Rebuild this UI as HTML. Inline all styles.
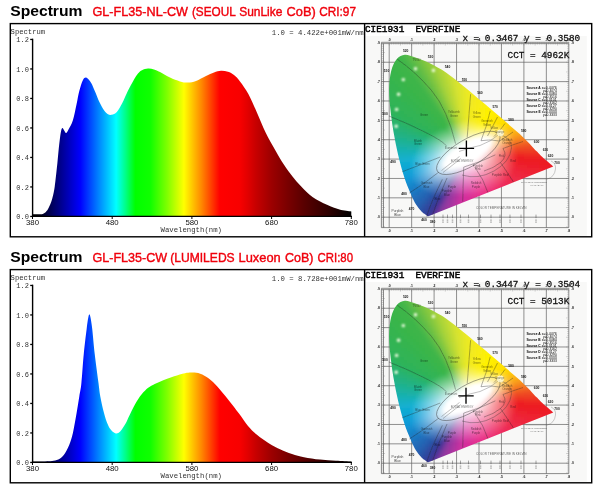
<!DOCTYPE html>
<html><head><meta charset="utf-8"><title>Spectrum</title>
<style>
html,body{margin:0;padding:0;background:#fff;}
body{width:600px;height:492px;overflow:hidden;font-family:"Liberation Sans",sans-serif;}
svg{display:block;opacity:0.999;}
text{font-family:"Liberation Sans",sans-serif;fill:#000;}
.h{font-weight:bold;font-size:15.5px;}
.r{font-size:13px;fill:#f0000c;stroke:#f0000c;stroke-width:0.4px;}
.m7{font-family:"Liberation Mono",monospace;font-size:7px;fill:#333;}
.m73{font-family:"Liberation Mono",monospace;font-size:7.3px;fill:#333;}
.s8{font-size:7.8px;fill:#111;}
.cb{font-family:"Liberation Mono",monospace;font-size:9.35px;fill:#000;stroke:#000;stroke-width:0.45px;}
.cl{stroke-width:0.28px;fill:#111;stroke:#111;}
</style></head><body>
<svg width="600" height="492" viewBox="0 0 600 492">
<defs>
<linearGradient id="spec" gradientUnits="userSpaceOnUse" x1="32.50" y1="0" x2="351.30" y2="0"><stop offset="0.0000" stop-color="#000000"/><stop offset="0.0150" stop-color="#000004"/><stop offset="0.0500" stop-color="#000048"/><stop offset="0.0875" stop-color="#00008c"/><stop offset="0.1200" stop-color="#0000c8"/><stop offset="0.1500" stop-color="#0000ff"/><stop offset="0.2075" stop-color="#0084ff"/><stop offset="0.2625" stop-color="#00ffff"/><stop offset="0.2925" stop-color="#00ff84"/><stop offset="0.3225" stop-color="#00ff00"/><stop offset="0.3700" stop-color="#10ff00"/><stop offset="0.4225" stop-color="#80ff00"/><stop offset="0.4750" stop-color="#ffff00"/><stop offset="0.5300" stop-color="#ff8800"/><stop offset="0.5875" stop-color="#ff0000"/><stop offset="0.6500" stop-color="#f80000"/><stop offset="0.6750" stop-color="#e20000"/><stop offset="0.7000" stop-color="#c80000"/><stop offset="0.7500" stop-color="#9c0000"/><stop offset="0.8000" stop-color="#7a0000"/><stop offset="0.8500" stop-color="#5a0000"/><stop offset="0.9250" stop-color="#300000"/><stop offset="0.9800" stop-color="#0c0000"/><stop offset="1.0000" stop-color="#000000"/></linearGradient>
<clipPath id="hs"><path d="M428.3 216.2C428.2 216.2 427.9 216.3 427.7 216.2C427.5 216.2 427.4 216.1 427.1 215.9C426.9 215.7 426.6 215.4 426.1 215.1C425.6 214.7 425.1 214.4 424.4 213.8C423.6 213.2 422.7 212.7 421.5 211.4C420.3 210.2 418.3 207.8 417.1 206.0C415.8 204.2 415.0 202.8 413.8 200.4C412.6 198.0 411.2 195.2 409.7 191.5C408.2 187.8 406.3 183.6 404.6 178.3C402.9 173.1 401.1 166.9 399.4 160.1C397.7 153.2 395.9 145.2 394.5 137.3C393.0 129.4 391.7 120.6 390.8 112.7C389.9 104.7 389.0 96.5 389.1 89.5C389.2 82.5 389.9 76.0 391.2 70.9C392.5 65.8 394.6 61.6 396.8 58.9C399.1 56.2 401.8 55.0 404.8 54.7C407.8 54.4 411.6 56.2 414.8 57.2C418.1 58.2 421.2 59.4 424.3 60.7C427.4 62.0 430.3 63.4 433.3 64.9C436.2 66.5 439.1 68.0 441.9 69.8C444.7 71.6 447.3 73.6 450.0 75.6C452.7 77.6 455.4 79.7 458.1 81.8C460.7 83.9 463.4 86.1 466.1 88.3C468.7 90.5 471.4 92.7 474.1 94.9C476.8 97.2 479.4 99.4 482.1 101.7C484.8 103.9 487.4 106.2 490.1 108.5C492.7 110.7 495.3 112.9 497.8 115.1C500.4 117.3 502.9 119.5 505.4 121.6C507.9 123.8 510.3 125.9 512.7 127.9C515.0 129.9 517.4 131.8 519.5 133.7C521.6 135.7 523.5 137.7 525.3 139.5C527.1 141.3 528.8 143.0 530.3 144.6C531.9 146.2 533.2 147.9 534.5 149.3C535.8 150.7 536.8 151.4 538.3 152.9C539.8 154.3 542.1 156.8 543.6 158.2C545.2 159.6 546.3 160.5 547.3 161.3C548.4 162.2 549.1 162.9 549.8 163.5C550.5 164.1 550.8 164.3 551.4 164.8C552.0 165.3 553.0 166.2 553.3 166.5Z"/></clipPath>
<filter id="bl" x="-5%" y="-5%" width="110%" height="110%"><feGaussianBlur stdDeviation="1.6"/></filter>
<filter id="b2" x="-50%" y="-50%" width="200%" height="200%"><feGaussianBlur stdDeviation="0.7"/></filter>
<filter id="b4" x="-100%" y="-100%" width="300%" height="300%"><feGaussianBlur stdDeviation="0.95"/></filter>
<filter id="b3" x="-10%" y="-10%" width="120%" height="120%"><feGaussianBlur stdDeviation="0.35"/></filter>
<g id="chart">
<rect x="365.3" y="36" width="221.5" height="200" fill="#f8f8f7"/>
<g><path d="M389.20 43.60V227.60M411.65 43.60V227.60M434.10 43.60V227.60M456.55 43.60V227.60M479.00 43.60V227.60M501.45 43.60V227.60M523.90 43.60V227.60M546.35 43.60V227.60M568.80 43.60V227.60M381.40 217.20H568.80M381.40 197.83H568.80M381.40 178.46H568.80M381.40 159.09H568.80M381.40 139.72H568.80M381.40 120.35H568.80M381.40 100.98H568.80M381.40 81.61H568.80M381.40 62.24H568.80M381.40 43.60H568.80" stroke="#626262" stroke-width="0.7" fill="none"/>
<path d="M381.40 42.40V227.60 M383.50 43.60V227.60 M381.40 227.60H568.80 M381.40 42.30H569.20" stroke="#5a5a5a" stroke-width="0.7" fill="none"/>
<path d="M389.20 42.30v3.2M391.44 42.30v2.2M393.69 42.30v2.2M395.94 42.30v2.2M398.18 42.30v2.2M400.43 42.30v3.2M402.67 42.30v2.2M404.91 42.30v2.2M407.16 42.30v2.2M409.40 42.30v2.2M411.65 42.30v3.2M413.89 42.30v2.2M416.14 42.30v2.2M418.38 42.30v2.2M420.63 42.30v2.2M422.88 42.30v3.2M425.12 42.30v2.2M427.37 42.30v2.2M429.61 42.30v2.2M431.86 42.30v2.2M434.10 42.30v3.2M436.34 42.30v2.2M438.59 42.30v2.2M440.83 42.30v2.2M443.08 42.30v2.2M445.32 42.30v3.2M447.57 42.30v2.2M449.81 42.30v2.2M452.06 42.30v2.2M454.30 42.30v2.2M456.55 42.30v3.2M458.79 42.30v2.2M461.04 42.30v2.2M463.28 42.30v2.2M465.53 42.30v2.2M467.77 42.30v3.2M470.02 42.30v2.2M472.26 42.30v2.2M474.51 42.30v2.2M476.75 42.30v2.2M479.00 42.30v3.2M481.25 42.30v2.2M483.49 42.30v2.2M485.74 42.30v2.2M487.98 42.30v2.2M490.23 42.30v3.2M492.47 42.30v2.2M494.71 42.30v2.2M496.96 42.30v2.2M499.20 42.30v2.2M501.45 42.30v3.2M503.69 42.30v2.2M505.94 42.30v2.2M508.19 42.30v2.2M510.43 42.30v2.2M512.67 42.30v3.2M514.92 42.30v2.2M517.16 42.30v2.2M519.41 42.30v2.2M521.65 42.30v2.2M523.90 42.30v3.2M526.14 42.30v2.2M528.39 42.30v2.2M530.63 42.30v2.2M532.88 42.30v2.2M535.12 42.30v3.2M537.37 42.30v2.2M539.62 42.30v2.2M541.86 42.30v2.2M544.11 42.30v2.2M546.35 42.30v3.2M548.60 42.30v2.2M550.84 42.30v2.2M553.09 42.30v2.2M555.33 42.30v2.2M557.58 42.30v3.2M559.82 42.30v2.2M562.07 42.30v2.2M564.31 42.30v2.2M566.56 42.30v2.2M568.80 42.30v3.2M381.40 226.88h3.6M568.80 226.88h-2.6M381.40 224.95h2.4M568.80 224.95h-1.6M381.40 223.01h2.4M568.80 223.01h-1.6M381.40 221.07h2.4M568.80 221.07h-1.6M381.40 219.14h2.4M568.80 219.14h-1.6M381.40 217.20h3.6M568.80 217.20h-2.6M381.40 215.26h2.4M568.80 215.26h-1.6M381.40 213.33h2.4M568.80 213.33h-1.6M381.40 211.39h2.4M568.80 211.39h-1.6M381.40 209.45h2.4M568.80 209.45h-1.6M381.40 207.51h3.6M568.80 207.51h-2.6M381.40 205.58h2.4M568.80 205.58h-1.6M381.40 203.64h2.4M568.80 203.64h-1.6M381.40 201.70h2.4M568.80 201.70h-1.6M381.40 199.77h2.4M568.80 199.77h-1.6M381.40 197.83h3.6M568.80 197.83h-2.6M381.40 195.89h2.4M568.80 195.89h-1.6M381.40 193.96h2.4M568.80 193.96h-1.6M381.40 192.02h2.4M568.80 192.02h-1.6M381.40 190.08h2.4M568.80 190.08h-1.6M381.40 188.14h3.6M568.80 188.14h-2.6M381.40 186.21h2.4M568.80 186.21h-1.6M381.40 184.27h2.4M568.80 184.27h-1.6M381.40 182.33h2.4M568.80 182.33h-1.6M381.40 180.40h2.4M568.80 180.40h-1.6M381.40 178.46h3.6M568.80 178.46h-2.6M381.40 176.52h2.4M568.80 176.52h-1.6M381.40 174.59h2.4M568.80 174.59h-1.6M381.40 172.65h2.4M568.80 172.65h-1.6M381.40 170.71h2.4M568.80 170.71h-1.6M381.40 168.77h3.6M568.80 168.77h-2.6M381.40 166.84h2.4M568.80 166.84h-1.6M381.40 164.90h2.4M568.80 164.90h-1.6M381.40 162.96h2.4M568.80 162.96h-1.6M381.40 161.03h2.4M568.80 161.03h-1.6M381.40 159.09h3.6M568.80 159.09h-2.6M381.40 157.15h2.4M568.80 157.15h-1.6M381.40 155.22h2.4M568.80 155.22h-1.6M381.40 153.28h2.4M568.80 153.28h-1.6M381.40 151.34h2.4M568.80 151.34h-1.6M381.40 149.41h3.6M568.80 149.41h-2.6M381.40 147.47h2.4M568.80 147.47h-1.6M381.40 145.53h2.4M568.80 145.53h-1.6M381.40 143.59h2.4M568.80 143.59h-1.6M381.40 141.66h2.4M568.80 141.66h-1.6M381.40 139.72h3.6M568.80 139.72h-2.6M381.40 137.78h2.4M568.80 137.78h-1.6M381.40 135.85h2.4M568.80 135.85h-1.6M381.40 133.91h2.4M568.80 133.91h-1.6M381.40 131.97h2.4M568.80 131.97h-1.6M381.40 130.03h3.6M568.80 130.03h-2.6M381.40 128.10h2.4M568.80 128.10h-1.6M381.40 126.16h2.4M568.80 126.16h-1.6M381.40 124.22h2.4M568.80 124.22h-1.6M381.40 122.29h2.4M568.80 122.29h-1.6M381.40 120.35h3.6M568.80 120.35h-2.6M381.40 118.41h2.4M568.80 118.41h-1.6M381.40 116.48h2.4M568.80 116.48h-1.6M381.40 114.54h2.4M568.80 114.54h-1.6M381.40 112.60h2.4M568.80 112.60h-1.6M381.40 110.66h3.6M568.80 110.66h-2.6M381.40 108.73h2.4M568.80 108.73h-1.6M381.40 106.79h2.4M568.80 106.79h-1.6M381.40 104.85h2.4M568.80 104.85h-1.6M381.40 102.92h2.4M568.80 102.92h-1.6M381.40 100.98h3.6M568.80 100.98h-2.6M381.40 99.04h2.4M568.80 99.04h-1.6M381.40 97.11h2.4M568.80 97.11h-1.6M381.40 95.17h2.4M568.80 95.17h-1.6M381.40 93.23h2.4M568.80 93.23h-1.6M381.40 91.29h3.6M568.80 91.29h-2.6M381.40 89.36h2.4M568.80 89.36h-1.6M381.40 87.42h2.4M568.80 87.42h-1.6M381.40 85.48h2.4M568.80 85.48h-1.6M381.40 83.55h2.4M568.80 83.55h-1.6M381.40 81.61h3.6M568.80 81.61h-2.6M381.40 79.67h2.4M568.80 79.67h-1.6M381.40 77.74h2.4M568.80 77.74h-1.6M381.40 75.80h2.4M568.80 75.80h-1.6M381.40 73.86h2.4M568.80 73.86h-1.6M381.40 71.93h3.6M568.80 71.93h-2.6M381.40 69.99h2.4M568.80 69.99h-1.6M381.40 68.05h2.4M568.80 68.05h-1.6M381.40 66.11h2.4M568.80 66.11h-1.6M381.40 64.18h2.4M568.80 64.18h-1.6M381.40 62.24h3.6M568.80 62.24h-2.6M381.40 60.30h2.4M568.80 60.30h-1.6M381.40 58.37h2.4M568.80 58.37h-1.6M381.40 56.43h2.4M568.80 56.43h-1.6M381.40 54.49h2.4M568.80 54.49h-1.6M381.40 52.56h3.6M568.80 52.56h-2.6M381.40 50.62h2.4M568.80 50.62h-1.6M381.40 48.68h2.4M568.80 48.68h-1.6M381.40 46.74h2.4M568.80 46.74h-1.6M381.40 44.81h2.4M568.80 44.81h-1.6" stroke="#777" stroke-width="0.35" fill="none"/>
</g>
<g clip-path="url(#hs)"><g filter="url(#bl)" stroke-width="3" shape-rendering="crispEdges">
<path d="M404 49.5h3" stroke="#59bb47"/><path d="M398 52.5h3" stroke="#45b649"/><path d="M401 52.5h3" stroke="#4db848"/><path d="M404 52.5h3" stroke="#54ba47"/><path d="M407 52.5h3" stroke="#5cbc46"/><path d="M410 52.5h3" stroke="#65be45"/><path d="M413 52.5h3" stroke="#6dc044"/><path d="M392 55.5h3" stroke="#3db54a"/><path d="M395 55.5h3" stroke="#3eb54a"/><path d="M398 55.5h3" stroke="#40b54a"/><path d="M401 55.5h3" stroke="#47b749"/><path d="M404 55.5h3" stroke="#4fb948"/><path d="M407 55.5h3" stroke="#58bb47"/><path d="M410 55.5h3" stroke="#60bd46"/><path d="M413 55.5h3" stroke="#69bf44"/><path d="M416 55.5h3" stroke="#72c243"/><path d="M419 55.5h3" stroke="#7cc541"/><path d="M422 55.5h3" stroke="#86c83f"/><path d="M392 58.5h3" stroke="#3cb54a"/><path d="M395 58.5h3" stroke="#3db54a"/><path d="M398 58.5h3" stroke="#3eb54a"/><path d="M401 58.5h3" stroke="#42b64a"/><path d="M404 58.5h3" stroke="#4ab849"/><path d="M407 58.5h3" stroke="#52ba47"/><path d="M410 58.5h3" stroke="#5bbc46"/><path d="M413 58.5h3" stroke="#64be45"/><path d="M416 58.5h3" stroke="#6dc044"/><path d="M419 58.5h3" stroke="#77c442"/><path d="M422 58.5h3" stroke="#81c740"/><path d="M425 58.5h3" stroke="#8cca3e"/><path d="M428 58.5h3" stroke="#97ce3c"/><path d="M389 61.5h3" stroke="#3bb54a"/><path d="M392 61.5h3" stroke="#3cb54a"/><path d="M395 61.5h3" stroke="#3db54a"/><path d="M398 61.5h3" stroke="#3eb54a"/><path d="M401 61.5h3" stroke="#3fb54a"/><path d="M404 61.5h3" stroke="#45b649"/><path d="M407 61.5h3" stroke="#4db848"/><path d="M410 61.5h3" stroke="#56bb47"/><path d="M413 61.5h3" stroke="#5fbd46"/><path d="M416 61.5h3" stroke="#68bf45"/><path d="M419 61.5h3" stroke="#72c243"/><path d="M422 61.5h3" stroke="#7cc541"/><path d="M425 61.5h3" stroke="#87c93f"/><path d="M428 61.5h3" stroke="#92cc3d"/><path d="M431 61.5h3" stroke="#9dd03b"/><path d="M434 61.5h3" stroke="#a7d339"/><path d="M389 64.5h3" stroke="#3ab54a"/><path d="M392 64.5h3" stroke="#3bb54a"/><path d="M395 64.5h3" stroke="#3cb54a"/><path d="M398 64.5h3" stroke="#3db54a"/><path d="M401 64.5h3" stroke="#3eb54a"/><path d="M404 64.5h3" stroke="#3fb54a"/><path d="M407 64.5h3" stroke="#47b749"/><path d="M410 64.5h3" stroke="#50b948"/><path d="M413 64.5h3" stroke="#59bb46"/><path d="M416 64.5h3" stroke="#63be45"/><path d="M419 64.5h3" stroke="#6cc044"/><path d="M422 64.5h3" stroke="#77c442"/><path d="M425 64.5h3" stroke="#82c740"/><path d="M428 64.5h3" stroke="#8dcb3e"/><path d="M431 64.5h3" stroke="#99ce3c"/><path d="M434 64.5h3" stroke="#a5d23a"/><path d="M437 64.5h3" stroke="#add538"/><path d="M440 64.5h3" stroke="#b5d836"/><path d="M386 67.5h3" stroke="#38b54b"/><path d="M389 67.5h3" stroke="#39b54a"/><path d="M392 67.5h3" stroke="#3ab54a"/><path d="M395 67.5h3" stroke="#3bb54a"/><path d="M398 67.5h3" stroke="#3cb54a"/><path d="M401 67.5h3" stroke="#3db54a"/><path d="M404 67.5h3" stroke="#3eb54a"/><path d="M407 67.5h3" stroke="#42b64a"/><path d="M410 67.5h3" stroke="#4ab848"/><path d="M413 67.5h3" stroke="#54ba47"/><path d="M416 67.5h3" stroke="#5dbc46"/><path d="M419 67.5h3" stroke="#67bf45"/><path d="M422 67.5h3" stroke="#71c243"/><path d="M425 67.5h3" stroke="#7dc541"/><path d="M428 67.5h3" stroke="#88c93f"/><path d="M431 67.5h3" stroke="#94cd3d"/><path d="M434 67.5h3" stroke="#a0d13b"/><path d="M437 67.5h3" stroke="#aad439"/><path d="M440 67.5h3" stroke="#b3d737"/><path d="M443 67.5h3" stroke="#bcda35"/><path d="M446 67.5h3" stroke="#c5dd33"/><path d="M386 70.5h3" stroke="#38b54c"/><path d="M389 70.5h3" stroke="#38b54b"/><path d="M392 70.5h3" stroke="#39b54a"/><path d="M395 70.5h3" stroke="#3ab54a"/><path d="M398 70.5h3" stroke="#3bb54a"/><path d="M401 70.5h3" stroke="#3cb54a"/><path d="M404 70.5h3" stroke="#3db54a"/><path d="M407 70.5h3" stroke="#3fb54a"/><path d="M410 70.5h3" stroke="#44b649"/><path d="M413 70.5h3" stroke="#4eb948"/><path d="M416 70.5h3" stroke="#57bb47"/><path d="M419 70.5h3" stroke="#61bd45"/><path d="M422 70.5h3" stroke="#6cc044"/><path d="M425 70.5h3" stroke="#77c442"/><path d="M428 70.5h3" stroke="#83c740"/><path d="M431 70.5h3" stroke="#8fcb3e"/><path d="M434 70.5h3" stroke="#9ccf3c"/><path d="M437 70.5h3" stroke="#a7d339"/><path d="M440 70.5h3" stroke="#b0d637"/><path d="M443 70.5h3" stroke="#b9d936"/><path d="M446 70.5h3" stroke="#c3dc34"/><path d="M449 70.5h3" stroke="#ccdf32"/><path d="M386 73.5h3" stroke="#37b54d"/><path d="M389 73.5h3" stroke="#38b54c"/><path d="M392 73.5h3" stroke="#38b54b"/><path d="M395 73.5h3" stroke="#39b54a"/><path d="M398 73.5h3" stroke="#3ab54a"/><path d="M401 73.5h3" stroke="#3bb54a"/><path d="M404 73.5h3" stroke="#3cb54a"/><path d="M407 73.5h3" stroke="#3eb54a"/><path d="M410 73.5h3" stroke="#3fb54a"/><path d="M413 73.5h3" stroke="#47b749"/><path d="M416 73.5h3" stroke="#51b948"/><path d="M419 73.5h3" stroke="#5bbc46"/><path d="M422 73.5h3" stroke="#66be45"/><path d="M425 73.5h3" stroke="#71c243"/><path d="M428 73.5h3" stroke="#7dc641"/><path d="M431 73.5h3" stroke="#8aca3f"/><path d="M434 73.5h3" stroke="#97ce3c"/><path d="M437 73.5h3" stroke="#a4d23a"/><path d="M440 73.5h3" stroke="#add538"/><path d="M443 73.5h3" stroke="#b7d836"/><path d="M446 73.5h3" stroke="#c0db34"/><path d="M449 73.5h3" stroke="#cadf32"/><path d="M452 73.5h3" stroke="#d4e230"/><path d="M386 76.5h3" stroke="#36b54d"/><path d="M389 76.5h3" stroke="#37b54d"/><path d="M392 76.5h3" stroke="#38b54c"/><path d="M395 76.5h3" stroke="#38b54b"/><path d="M398 76.5h3" stroke="#39b54a"/><path d="M401 76.5h3" stroke="#3ab54a"/><path d="M404 76.5h3" stroke="#3cb54a"/><path d="M407 76.5h3" stroke="#3db54a"/><path d="M410 76.5h3" stroke="#3eb54a"/><path d="M413 76.5h3" stroke="#41b54a"/><path d="M416 76.5h3" stroke="#4bb848"/><path d="M419 76.5h3" stroke="#55ba47"/><path d="M422 76.5h3" stroke="#60bd46"/><path d="M425 76.5h3" stroke="#6bc044"/><path d="M428 76.5h3" stroke="#77c442"/><path d="M431 76.5h3" stroke="#84c840"/><path d="M434 76.5h3" stroke="#91cc3d"/><path d="M437 76.5h3" stroke="#9fd03b"/><path d="M440 76.5h3" stroke="#aad439"/><path d="M443 76.5h3" stroke="#b4d737"/><path d="M446 76.5h3" stroke="#bedb35"/><path d="M449 76.5h3" stroke="#c8de33"/><path d="M452 76.5h3" stroke="#d2e130"/><path d="M455 76.5h3" stroke="#d8e32e"/><path d="M458 76.5h3" stroke="#dee52b"/><path d="M386 79.5h3" stroke="#36b44e"/><path d="M389 79.5h3" stroke="#36b54d"/><path d="M392 79.5h3" stroke="#37b54d"/><path d="M395 79.5h3" stroke="#38b54c"/><path d="M398 79.5h3" stroke="#39b54b"/><path d="M401 79.5h3" stroke="#39b54a"/><path d="M404 79.5h3" stroke="#3bb54a"/><path d="M407 79.5h3" stroke="#3cb54a"/><path d="M410 79.5h3" stroke="#3db54a"/><path d="M413 79.5h3" stroke="#3eb54a"/><path d="M416 79.5h3" stroke="#44b649"/><path d="M419 79.5h3" stroke="#4eb948"/><path d="M422 79.5h3" stroke="#59bb46"/><path d="M425 79.5h3" stroke="#65be45"/><path d="M428 79.5h3" stroke="#71c143"/><path d="M431 79.5h3" stroke="#7ec641"/><path d="M434 79.5h3" stroke="#8bca3e"/><path d="M437 79.5h3" stroke="#99cf3c"/><path d="M440 79.5h3" stroke="#a6d339"/><path d="M443 79.5h3" stroke="#b1d637"/><path d="M446 79.5h3" stroke="#bbda35"/><path d="M449 79.5h3" stroke="#c5dd33"/><path d="M452 79.5h3" stroke="#d0e131"/><path d="M455 79.5h3" stroke="#d8e32e"/><path d="M458 79.5h3" stroke="#dde52b"/><path d="M461 79.5h3" stroke="#e3e729"/><path d="M383 82.5h3" stroke="#34b450"/><path d="M386 82.5h3" stroke="#35b44f"/><path d="M389 82.5h3" stroke="#36b44e"/><path d="M392 82.5h3" stroke="#36b54e"/><path d="M395 82.5h3" stroke="#37b54d"/><path d="M398 82.5h3" stroke="#38b54c"/><path d="M401 82.5h3" stroke="#39b54b"/><path d="M404 82.5h3" stroke="#3ab54a"/><path d="M407 82.5h3" stroke="#3bb54a"/><path d="M410 82.5h3" stroke="#3cb54a"/><path d="M413 82.5h3" stroke="#3db54a"/><path d="M416 82.5h3" stroke="#3fb54a"/><path d="M419 82.5h3" stroke="#47b749"/><path d="M422 82.5h3" stroke="#52ba47"/><path d="M425 82.5h3" stroke="#5ebd46"/><path d="M428 82.5h3" stroke="#6abf44"/><path d="M431 82.5h3" stroke="#77c442"/><path d="M434 82.5h3" stroke="#85c840"/><path d="M437 82.5h3" stroke="#93cd3d"/><path d="M440 82.5h3" stroke="#a2d13a"/><path d="M443 82.5h3" stroke="#add538"/><path d="M446 82.5h3" stroke="#b8d936"/><path d="M449 82.5h3" stroke="#c3dc34"/><path d="M452 82.5h3" stroke="#cee031"/><path d="M455 82.5h3" stroke="#d7e32f"/><path d="M458 82.5h3" stroke="#dce52c"/><path d="M461 82.5h3" stroke="#e2e729"/><path d="M464 82.5h3" stroke="#e8e926"/><path d="M383 85.5h3" stroke="#34b451"/><path d="M386 85.5h3" stroke="#34b450"/><path d="M389 85.5h3" stroke="#35b44f"/><path d="M392 85.5h3" stroke="#36b44f"/><path d="M395 85.5h3" stroke="#36b54e"/><path d="M398 85.5h3" stroke="#37b54d"/><path d="M401 85.5h3" stroke="#38b54c"/><path d="M404 85.5h3" stroke="#39b54a"/><path d="M407 85.5h3" stroke="#3ab54a"/><path d="M410 85.5h3" stroke="#3bb54a"/><path d="M413 85.5h3" stroke="#3cb54a"/><path d="M416 85.5h3" stroke="#3eb54a"/><path d="M419 85.5h3" stroke="#40b54a"/><path d="M422 85.5h3" stroke="#4bb848"/><path d="M425 85.5h3" stroke="#57bb47"/><path d="M428 85.5h3" stroke="#63be45"/><path d="M431 85.5h3" stroke="#70c143"/><path d="M434 85.5h3" stroke="#7ec641"/><path d="M437 85.5h3" stroke="#8dcb3e"/><path d="M440 85.5h3" stroke="#9dd03b"/><path d="M443 85.5h3" stroke="#aad439"/><path d="M446 85.5h3" stroke="#b5d837"/><path d="M449 85.5h3" stroke="#c0db34"/><path d="M452 85.5h3" stroke="#ccdf32"/><path d="M455 85.5h3" stroke="#d6e32f"/><path d="M458 85.5h3" stroke="#dce52c"/><path d="M461 85.5h3" stroke="#e2e729"/><path d="M464 85.5h3" stroke="#e8e926"/><path d="M467 85.5h3" stroke="#edea23"/><path d="M383 88.5h3" stroke="#33b452"/><path d="M386 88.5h3" stroke="#34b451"/><path d="M389 88.5h3" stroke="#34b450"/><path d="M392 88.5h3" stroke="#35b450"/><path d="M395 88.5h3" stroke="#36b44f"/><path d="M398 88.5h3" stroke="#36b54e"/><path d="M401 88.5h3" stroke="#37b54d"/><path d="M404 88.5h3" stroke="#38b54b"/><path d="M407 88.5h3" stroke="#39b54a"/><path d="M410 88.5h3" stroke="#3ab54a"/><path d="M413 88.5h3" stroke="#3bb54a"/><path d="M416 88.5h3" stroke="#3db54a"/><path d="M419 88.5h3" stroke="#3eb54a"/><path d="M422 88.5h3" stroke="#43b649"/><path d="M425 88.5h3" stroke="#4fb948"/><path d="M428 88.5h3" stroke="#5cbc46"/><path d="M431 88.5h3" stroke="#69bf44"/><path d="M434 88.5h3" stroke="#77c442"/><path d="M437 88.5h3" stroke="#87c93f"/><path d="M440 88.5h3" stroke="#96ce3c"/><path d="M443 88.5h3" stroke="#a6d33a"/><path d="M446 88.5h3" stroke="#b1d637"/><path d="M449 88.5h3" stroke="#bdda35"/><path d="M452 88.5h3" stroke="#c9de32"/><path d="M455 88.5h3" stroke="#d5e230"/><path d="M458 88.5h3" stroke="#dbe42c"/><path d="M461 88.5h3" stroke="#e1e629"/><path d="M464 88.5h3" stroke="#e8e926"/><path d="M467 88.5h3" stroke="#edea23"/><path d="M470 88.5h3" stroke="#f0ea21"/><path d="M473 88.5h3" stroke="#f3ea1f"/><path d="M383 91.5h3" stroke="#32b453"/><path d="M386 91.5h6" stroke="#33b452"/><path d="M392 91.5h3" stroke="#34b451"/><path d="M395 91.5h3" stroke="#35b450"/><path d="M398 91.5h3" stroke="#35b44f"/><path d="M401 91.5h3" stroke="#36b54e"/><path d="M404 91.5h3" stroke="#37b54d"/><path d="M407 91.5h3" stroke="#38b54b"/><path d="M410 91.5h3" stroke="#39b54a"/><path d="M413 91.5h3" stroke="#3ab54a"/><path d="M416 91.5h3" stroke="#3bb54a"/><path d="M419 91.5h3" stroke="#3db54a"/><path d="M422 91.5h3" stroke="#3fb54a"/><path d="M425 91.5h3" stroke="#47b749"/><path d="M428 91.5h3" stroke="#54ba47"/><path d="M431 91.5h3" stroke="#61bd45"/><path d="M434 91.5h3" stroke="#70c143"/><path d="M437 91.5h3" stroke="#7fc641"/><path d="M440 91.5h3" stroke="#90cb3e"/><path d="M443 91.5h3" stroke="#a0d13b"/><path d="M446 91.5h3" stroke="#aed538"/><path d="M449 91.5h3" stroke="#bad935"/><path d="M452 91.5h3" stroke="#c6dd33"/><path d="M455 91.5h3" stroke="#d3e230"/><path d="M458 91.5h3" stroke="#dae42d"/><path d="M461 91.5h3" stroke="#e1e62a"/><path d="M464 91.5h3" stroke="#e8e926"/><path d="M467 91.5h3" stroke="#edea23"/><path d="M470 91.5h3" stroke="#f0ea21"/><path d="M473 91.5h3" stroke="#f3ea1e"/><path d="M476 91.5h3" stroke="#f5eb1b"/><path d="M383 94.5h3" stroke="#31b454"/><path d="M386 94.5h3" stroke="#32b453"/><path d="M389 94.5h3" stroke="#33b453"/><path d="M392 94.5h3" stroke="#33b452"/><path d="M395 94.5h3" stroke="#34b451"/><path d="M398 94.5h3" stroke="#35b450"/><path d="M401 94.5h3" stroke="#35b44f"/><path d="M404 94.5h3" stroke="#36b54e"/><path d="M407 94.5h3" stroke="#37b54d"/><path d="M410 94.5h3" stroke="#38b54b"/><path d="M413 94.5h3" stroke="#39b54a"/><path d="M416 94.5h3" stroke="#3ab54a"/><path d="M419 94.5h3" stroke="#3cb54a"/><path d="M422 94.5h3" stroke="#3db54a"/><path d="M425 94.5h3" stroke="#3fb54a"/><path d="M428 94.5h3" stroke="#4cb848"/><path d="M431 94.5h3" stroke="#59bb46"/><path d="M434 94.5h3" stroke="#68bf45"/><path d="M437 94.5h3" stroke="#77c442"/><path d="M440 94.5h3" stroke="#88c93f"/><path d="M443 94.5h3" stroke="#9acf3c"/><path d="M446 94.5h3" stroke="#a9d439"/><path d="M449 94.5h3" stroke="#b6d836"/><path d="M452 94.5h3" stroke="#c3dc33"/><path d="M455 94.5h3" stroke="#d1e131"/><path d="M458 94.5h3" stroke="#d9e42d"/><path d="M461 94.5h3" stroke="#e0e62a"/><path d="M464 94.5h3" stroke="#e7e826"/><path d="M467 94.5h3" stroke="#edea23"/><path d="M470 94.5h3" stroke="#f0ea21"/><path d="M473 94.5h3" stroke="#f4ea1e"/><path d="M476 94.5h3" stroke="#f5eb1a"/><path d="M479 94.5h3" stroke="#f7ec16"/><path d="M383 97.5h3" stroke="#30b455"/><path d="M386 97.5h3" stroke="#31b455"/><path d="M389 97.5h3" stroke="#32b454"/><path d="M392 97.5h3" stroke="#32b453"/><path d="M395 97.5h3" stroke="#33b452"/><path d="M398 97.5h3" stroke="#34b451"/><path d="M401 97.5h3" stroke="#34b450"/><path d="M404 97.5h3" stroke="#35b44f"/><path d="M407 97.5h3" stroke="#36b54e"/><path d="M410 97.5h3" stroke="#37b54d"/><path d="M413 97.5h3" stroke="#38b54b"/><path d="M416 97.5h3" stroke="#39b54a"/><path d="M419 97.5h3" stroke="#3ab54a"/><path d="M422 97.5h3" stroke="#3cb54a"/><path d="M425 97.5h3" stroke="#3eb54a"/><path d="M428 97.5h3" stroke="#43b649"/><path d="M431 97.5h3" stroke="#51b948"/><path d="M434 97.5h3" stroke="#5fbd46"/><path d="M437 97.5h3" stroke="#6fc143"/><path d="M440 97.5h3" stroke="#80c740"/><path d="M443 97.5h3" stroke="#92cc3d"/><path d="M446 97.5h3" stroke="#a5d23a"/><path d="M449 97.5h3" stroke="#b2d737"/><path d="M452 97.5h3" stroke="#c0db34"/><path d="M455 97.5h3" stroke="#cee031"/><path d="M458 97.5h3" stroke="#d8e32e"/><path d="M461 97.5h3" stroke="#e0e62a"/><path d="M464 97.5h3" stroke="#e7e826"/><path d="M467 97.5h3" stroke="#edea23"/><path d="M470 97.5h3" stroke="#f1ea20"/><path d="M473 97.5h3" stroke="#f4ea1e"/><path d="M476 97.5h3" stroke="#f6eb19"/><path d="M479 97.5h3" stroke="#f7ec15"/><path d="M482 97.5h3" stroke="#f9ed11"/><path d="M383 100.5h3" stroke="#30b357"/><path d="M386 100.5h3" stroke="#30b456"/><path d="M389 100.5h3" stroke="#31b455"/><path d="M392 100.5h3" stroke="#31b454"/><path d="M395 100.5h3" stroke="#32b453"/><path d="M398 100.5h3" stroke="#33b452"/><path d="M401 100.5h3" stroke="#34b451"/><path d="M404 100.5h3" stroke="#34b450"/><path d="M407 100.5h3" stroke="#35b44f"/><path d="M410 100.5h3" stroke="#36b54e"/><path d="M413 100.5h3" stroke="#37b54d"/><path d="M416 100.5h3" stroke="#38b54b"/><path d="M419 100.5h3" stroke="#39b54a"/><path d="M422 100.5h3" stroke="#3bb54a"/><path d="M425 100.5h3" stroke="#3cb54a"/><path d="M428 100.5h3" stroke="#3eb54a"/><path d="M431 100.5h3" stroke="#47b749"/><path d="M434 100.5h3" stroke="#56bb47"/><path d="M437 100.5h3" stroke="#66bf45"/><path d="M440 100.5h3" stroke="#78c442"/><path d="M443 100.5h3" stroke="#8aca3f"/><path d="M446 100.5h3" stroke="#9ed03b"/><path d="M449 100.5h3" stroke="#aed538"/><path d="M452 100.5h3" stroke="#bcda35"/><path d="M455 100.5h3" stroke="#cbdf32"/><path d="M458 100.5h3" stroke="#d7e32e"/><path d="M461 100.5h3" stroke="#dfe62b"/><path d="M464 100.5h3" stroke="#e7e827"/><path d="M467 100.5h3" stroke="#edea23"/><path d="M470 100.5h3" stroke="#f1ea20"/><path d="M473 100.5h3" stroke="#f4ea1d"/><path d="M476 100.5h3" stroke="#f6eb19"/><path d="M479 100.5h3" stroke="#f8ed14"/><path d="M482 100.5h3" stroke="#f9ee10"/><path d="M485 100.5h3" stroke="#fbef0c"/><path d="M386 103.5h3" stroke="#2fb357"/><path d="M389 103.5h3" stroke="#30b356"/><path d="M392 103.5h3" stroke="#30b455"/><path d="M395 103.5h3" stroke="#31b454"/><path d="M398 103.5h3" stroke="#32b454"/><path d="M401 103.5h3" stroke="#33b453"/><path d="M404 103.5h3" stroke="#33b452"/><path d="M407 103.5h3" stroke="#34b450"/><path d="M410 103.5h3" stroke="#35b44f"/><path d="M413 103.5h3" stroke="#36b54e"/><path d="M416 103.5h3" stroke="#37b54d"/><path d="M419 103.5h3" stroke="#38b54b"/><path d="M422 103.5h3" stroke="#39b54a"/><path d="M425 103.5h3" stroke="#3bb54a"/><path d="M428 103.5h3" stroke="#3db54a"/><path d="M431 103.5h3" stroke="#3fb54a"/><path d="M434 103.5h3" stroke="#4db848"/><path d="M437 103.5h3" stroke="#5dbc46"/><path d="M440 103.5h3" stroke="#6ec144"/><path d="M443 103.5h3" stroke="#82c740"/><path d="M446 103.5h3" stroke="#96cd3d"/><path d="M449 103.5h3" stroke="#a9d439"/><path d="M452 103.5h3" stroke="#b8d936"/><path d="M455 103.5h3" stroke="#c8de33"/><path d="M458 103.5h3" stroke="#d6e32f"/><path d="M461 103.5h3" stroke="#dee52b"/><path d="M464 103.5h3" stroke="#e6e827"/><path d="M467 103.5h3" stroke="#edea23"/><path d="M470 103.5h3" stroke="#f1ea20"/><path d="M473 103.5h3" stroke="#f5ea1d"/><path d="M476 103.5h3" stroke="#f6ec18"/><path d="M479 103.5h3" stroke="#f8ed13"/><path d="M482 103.5h3" stroke="#faee0e"/><path d="M485 103.5h3" stroke="#fbef0a"/><path d="M488 103.5h3" stroke="#fdf006"/><path d="M491 103.5h3" stroke="#fef202"/><path d="M386 106.5h3" stroke="#2eb358"/><path d="M389 106.5h6" stroke="#2fb357"/><path d="M395 106.5h3" stroke="#30b456"/><path d="M398 106.5h3" stroke="#31b455"/><path d="M401 106.5h3" stroke="#32b454"/><path d="M404 106.5h3" stroke="#32b453"/><path d="M407 106.5h3" stroke="#33b452"/><path d="M410 106.5h3" stroke="#34b451"/><path d="M413 106.5h3" stroke="#35b44f"/><path d="M416 106.5h3" stroke="#36b44e"/><path d="M419 106.5h3" stroke="#37b54d"/><path d="M422 106.5h3" stroke="#38b54b"/><path d="M425 106.5h3" stroke="#3ab54a"/><path d="M428 106.5h3" stroke="#3bb54a"/><path d="M431 106.5h3" stroke="#3db54a"/><path d="M434 106.5h3" stroke="#42b64a"/><path d="M437 106.5h3" stroke="#53ba47"/><path d="M440 106.5h3" stroke="#64be45"/><path d="M443 106.5h3" stroke="#78c442"/><path d="M446 106.5h3" stroke="#8dcb3e"/><path d="M449 106.5h3" stroke="#a3d23a"/><path d="M452 106.5h3" stroke="#b4d737"/><path d="M455 106.5h3" stroke="#c4dd33"/><path d="M458 106.5h3" stroke="#d5e230"/><path d="M461 106.5h3" stroke="#dde52b"/><path d="M464 106.5h3" stroke="#e6e827"/><path d="M467 106.5h3" stroke="#edea23"/><path d="M470 106.5h3" stroke="#f2ea20"/><path d="M473 106.5h3" stroke="#f5eb1c"/><path d="M476 106.5h3" stroke="#f7ec17"/><path d="M479 106.5h3" stroke="#f9ed12"/><path d="M482 106.5h3" stroke="#faef0d"/><path d="M485 106.5h3" stroke="#fcf008"/><path d="M488 106.5h3" stroke="#fef104"/><path d="M491 106.5h3" stroke="#fff200"/><path d="M494 106.5h3" stroke="#ffef00"/><path d="M386 109.5h3" stroke="#2db35a"/><path d="M389 109.5h3" stroke="#2eb359"/><path d="M392 109.5h3" stroke="#2eb358"/><path d="M395 109.5h3" stroke="#2fb357"/><path d="M398 109.5h3" stroke="#30b356"/><path d="M401 109.5h3" stroke="#30b455"/><path d="M404 109.5h3" stroke="#31b454"/><path d="M407 109.5h3" stroke="#32b453"/><path d="M410 109.5h3" stroke="#33b452"/><path d="M413 109.5h3" stroke="#34b451"/><path d="M416 109.5h3" stroke="#35b450"/><path d="M419 109.5h3" stroke="#36b44e"/><path d="M422 109.5h3" stroke="#37b54d"/><path d="M425 109.5h3" stroke="#38b54b"/><path d="M428 109.5h3" stroke="#3ab54a"/><path d="M431 109.5h3" stroke="#3cb54a"/><path d="M434 109.5h3" stroke="#3eb54a"/><path d="M437 109.5h3" stroke="#47b749"/><path d="M440 109.5h3" stroke="#5abb46"/><path d="M443 109.5h3" stroke="#6dc044"/><path d="M446 109.5h3" stroke="#83c740"/><path d="M449 109.5h3" stroke="#9bcf3c"/><path d="M452 109.5h3" stroke="#aed538"/><path d="M455 109.5h3" stroke="#c0db34"/><path d="M458 109.5h3" stroke="#d2e130"/><path d="M461 109.5h3" stroke="#dce52c"/><path d="M464 109.5h3" stroke="#e6e827"/><path d="M467 109.5h3" stroke="#eeea23"/><path d="M470 109.5h3" stroke="#f2ea1f"/><path d="M473 109.5h3" stroke="#f5eb1b"/><path d="M476 109.5h3" stroke="#f7ec16"/><path d="M479 109.5h3" stroke="#f9ee10"/><path d="M482 109.5h3" stroke="#fbef0b"/><path d="M485 109.5h3" stroke="#fdf006"/><path d="M488 109.5h3" stroke="#fef202"/><path d="M491 109.5h3" stroke="#fff000"/><path d="M494 109.5h3" stroke="#ffed00"/><path d="M497 109.5h3" stroke="#ffeb00"/><path d="M386 112.5h3" stroke="#2cb35e"/><path d="M389 112.5h3" stroke="#2db35b"/><path d="M392 112.5h3" stroke="#2db359"/><path d="M395 112.5h3" stroke="#2eb359"/><path d="M398 112.5h3" stroke="#2fb358"/><path d="M401 112.5h3" stroke="#2fb357"/><path d="M404 112.5h3" stroke="#30b456"/><path d="M407 112.5h3" stroke="#31b455"/><path d="M410 112.5h3" stroke="#32b454"/><path d="M413 112.5h3" stroke="#33b452"/><path d="M416 112.5h3" stroke="#34b451"/><path d="M419 112.5h3" stroke="#35b450"/><path d="M422 112.5h3" stroke="#36b44e"/><path d="M425 112.5h3" stroke="#37b54d"/><path d="M428 112.5h3" stroke="#38b54b"/><path d="M431 112.5h3" stroke="#3ab54a"/><path d="M434 112.5h3" stroke="#3cb54a"/><path d="M437 112.5h3" stroke="#3eb54a"/><path d="M440 112.5h3" stroke="#4eb948"/><path d="M443 112.5h3" stroke="#62bd45"/><path d="M446 112.5h3" stroke="#78c442"/><path d="M449 112.5h3" stroke="#91cc3d"/><path d="M452 112.5h3" stroke="#a8d339"/><path d="M455 112.5h3" stroke="#bbda35"/><path d="M458 112.5h3" stroke="#cee031"/><path d="M461 112.5h3" stroke="#dbe42c"/><path d="M464 112.5h3" stroke="#e5e827"/><path d="M467 112.5h3" stroke="#eeea23"/><path d="M470 112.5h3" stroke="#f2ea1f"/><path d="M473 112.5h3" stroke="#f5eb1a"/><path d="M476 112.5h3" stroke="#f8ed14"/><path d="M479 112.5h3" stroke="#faee0f"/><path d="M482 112.5h3" stroke="#fcf009"/><path d="M485 112.5h3" stroke="#fdf104"/><path d="M488 112.5h3" stroke="#fff100"/><path d="M491 112.5h3" stroke="#ffee00"/><path d="M494 112.5h3" stroke="#ffeb00"/><path d="M497 112.5h3" stroke="#ffe900"/><path d="M500 112.5h3" stroke="#ffe600"/><path d="M386 115.5h3" stroke="#2ab363"/><path d="M389 115.5h3" stroke="#2bb361"/><path d="M392 115.5h3" stroke="#2cb35e"/><path d="M395 115.5h3" stroke="#2db35b"/><path d="M398 115.5h3" stroke="#2eb359"/><path d="M401 115.5h3" stroke="#2eb358"/><path d="M404 115.5h3" stroke="#2fb357"/><path d="M407 115.5h3" stroke="#30b356"/><path d="M410 115.5h3" stroke="#30b455"/><path d="M413 115.5h3" stroke="#31b454"/><path d="M416 115.5h3" stroke="#32b453"/><path d="M419 115.5h3" stroke="#33b452"/><path d="M422 115.5h3" stroke="#34b450"/><path d="M425 115.5h3" stroke="#36b44e"/><path d="M428 115.5h3" stroke="#37b54d"/><path d="M431 115.5h3" stroke="#38b54b"/><path d="M434 115.5h3" stroke="#3ab54a"/><path d="M437 115.5h3" stroke="#3db54a"/><path d="M440 115.5h3" stroke="#41b54a"/><path d="M443 115.5h3" stroke="#55ba47"/><path d="M446 115.5h3" stroke="#6cc044"/><path d="M449 115.5h3" stroke="#85c83f"/><path d="M452 115.5h3" stroke="#a1d13b"/><path d="M455 115.5h3" stroke="#b6d836"/><path d="M458 115.5h3" stroke="#cadf32"/><path d="M461 115.5h3" stroke="#dae42d"/><path d="M464 115.5h3" stroke="#e5e828"/><path d="M467 115.5h3" stroke="#eeea23"/><path d="M470 115.5h3" stroke="#f3ea1f"/><path d="M473 115.5h3" stroke="#f6eb19"/><path d="M476 115.5h3" stroke="#f8ed13"/><path d="M479 115.5h3" stroke="#faef0d"/><path d="M482 115.5h3" stroke="#fcf007"/><path d="M485 115.5h3" stroke="#fef202"/><path d="M488 115.5h3" stroke="#fff000"/><path d="M491 115.5h3" stroke="#ffec00"/><path d="M494 115.5h3" stroke="#ffe900"/><path d="M497 115.5h3" stroke="#ffe600"/><path d="M500 115.5h3" stroke="#ffe400"/><path d="M503 115.5h3" stroke="#ffe200"/><path d="M386 118.5h3" stroke="#29b369"/><path d="M389 118.5h3" stroke="#2ab366"/><path d="M392 118.5h3" stroke="#2ab364"/><path d="M395 118.5h3" stroke="#2bb361"/><path d="M398 118.5h3" stroke="#2cb35e"/><path d="M401 118.5h3" stroke="#2db35a"/><path d="M404 118.5h3" stroke="#2eb359"/><path d="M407 118.5h3" stroke="#2eb358"/><path d="M410 118.5h3" stroke="#2fb357"/><path d="M413 118.5h3" stroke="#30b456"/><path d="M416 118.5h3" stroke="#31b455"/><path d="M419 118.5h3" stroke="#32b453"/><path d="M422 118.5h3" stroke="#33b452"/><path d="M425 118.5h3" stroke="#34b450"/><path d="M428 118.5h3" stroke="#36b44f"/><path d="M431 118.5h3" stroke="#37b54d"/><path d="M434 118.5h3" stroke="#38b54b"/><path d="M437 118.5h3" stroke="#3bb54a"/><path d="M440 118.5h3" stroke="#3db54a"/><path d="M443 118.5h3" stroke="#47b749"/><path d="M446 118.5h3" stroke="#5ebd46"/><path d="M449 118.5h3" stroke="#78c442"/><path d="M452 118.5h3" stroke="#95cd3d"/><path d="M455 118.5h3" stroke="#afd638"/><path d="M458 118.5h3" stroke="#c5dd33"/><path d="M461 118.5h3" stroke="#d8e32e"/><path d="M464 118.5h3" stroke="#e4e728"/><path d="M467 118.5h3" stroke="#eeea23"/><path d="M470 118.5h3" stroke="#f4ea1e"/><path d="M473 118.5h3" stroke="#f6ec18"/><path d="M476 118.5h3" stroke="#f9ed11"/><path d="M479 118.5h3" stroke="#fbef0b"/><path d="M482 118.5h3" stroke="#fdf104"/><path d="M485 118.5h3" stroke="#fff100"/><path d="M488 118.5h3" stroke="#ffed00"/><path d="M491 118.5h3" stroke="#ffea00"/><path d="M494 118.5h3" stroke="#ffe700"/><path d="M497 118.5h3" stroke="#ffe400"/><path d="M500 118.5h3" stroke="#ffe200"/><path d="M503 118.5h3" stroke="#ffe000"/><path d="M506 118.5h3" stroke="#ffde00"/><path d="M386 121.5h3" stroke="#27b36f"/><path d="M389 121.5h3" stroke="#28b36c"/><path d="M392 121.5h3" stroke="#29b36a"/><path d="M395 121.5h3" stroke="#29b367"/><path d="M398 121.5h3" stroke="#2ab364"/><path d="M401 121.5h3" stroke="#2bb361"/><path d="M404 121.5h3" stroke="#2cb35d"/><path d="M407 121.5h3" stroke="#2db35a"/><path d="M410 121.5h3" stroke="#2eb359"/><path d="M413 121.5h3" stroke="#2fb358"/><path d="M416 121.5h3" stroke="#30b357"/><path d="M419 121.5h3" stroke="#30b455"/><path d="M422 121.5h3" stroke="#32b454"/><path d="M425 121.5h3" stroke="#33b452"/><path d="M428 121.5h3" stroke="#34b451"/><path d="M431 121.5h3" stroke="#35b44f"/><path d="M434 121.5h3" stroke="#37b54d"/><path d="M437 121.5h3" stroke="#39b54b"/><path d="M440 121.5h3" stroke="#3bb54a"/><path d="M443 121.5h3" stroke="#3eb54a"/><path d="M446 121.5h3" stroke="#50b948"/><path d="M449 121.5h3" stroke="#6abf44"/><path d="M452 121.5h3" stroke="#88c93f"/><path d="M455 121.5h3" stroke="#a8d43b"/><path d="M458 121.5h3" stroke="#c2dc3b"/><path d="M461 121.5h3" stroke="#d8e439"/><path d="M464 121.5h3" stroke="#e5e936"/><path d="M467 121.5h3" stroke="#efeb32"/><path d="M470 121.5h3" stroke="#f5eb2c"/><path d="M473 121.5h3" stroke="#f7ed21"/><path d="M476 121.5h3" stroke="#faee15"/><path d="M479 121.5h3" stroke="#fcf008"/><path d="M482 121.5h3" stroke="#fef202"/><path d="M485 121.5h3" stroke="#ffef00"/><path d="M488 121.5h3" stroke="#ffeb00"/><path d="M491 121.5h3" stroke="#ffe800"/><path d="M494 121.5h3" stroke="#ffe500"/><path d="M497 121.5h3" stroke="#ffe200"/><path d="M500 121.5h3" stroke="#ffe000"/><path d="M503 121.5h3" stroke="#ffde00"/><path d="M506 121.5h3" stroke="#ffdc00"/><path d="M509 121.5h3" stroke="#ffd703"/><path d="M512 121.5h3" stroke="#fed206"/><path d="M386 124.5h3" stroke="#26b275"/><path d="M389 124.5h3" stroke="#26b273"/><path d="M392 124.5h3" stroke="#27b370"/><path d="M395 124.5h3" stroke="#28b36e"/><path d="M398 124.5h3" stroke="#28b36b"/><path d="M401 124.5h3" stroke="#29b368"/><path d="M404 124.5h3" stroke="#2ab365"/><path d="M407 124.5h3" stroke="#2bb361"/><path d="M410 124.5h3" stroke="#2cb35d"/><path d="M413 124.5h3" stroke="#2db35a"/><path d="M416 124.5h3" stroke="#2eb359"/><path d="M419 124.5h3" stroke="#2fb357"/><path d="M422 124.5h3" stroke="#30b356"/><path d="M425 124.5h3" stroke="#31b455"/><path d="M428 124.5h3" stroke="#32b453"/><path d="M431 124.5h3" stroke="#34b451"/><path d="M434 124.5h3" stroke="#35b44f"/><path d="M437 124.5h3" stroke="#37b54d"/><path d="M440 124.5h3" stroke="#39b54a"/><path d="M443 124.5h3" stroke="#3cb54a"/><path d="M446 124.5h3" stroke="#43b74e"/><path d="M449 124.5h3" stroke="#64c051"/><path d="M452 124.5h3" stroke="#85c953"/><path d="M455 124.5h3" stroke="#a8d552"/><path d="M458 124.5h3" stroke="#c3de52"/><path d="M461 124.5h3" stroke="#dbe752"/><path d="M464 124.5h3" stroke="#e7eb4f"/><path d="M467 124.5h3" stroke="#f1ee4c"/><path d="M470 124.5h3" stroke="#f6ee46"/><path d="M473 124.5h3" stroke="#f9f03c"/><path d="M476 124.5h3" stroke="#fbf132"/><path d="M479 124.5h3" stroke="#fdf327"/><path d="M482 124.5h3" stroke="#fff21f"/><path d="M485 124.5h3" stroke="#ffee1b"/><path d="M488 124.5h3" stroke="#ffea16"/><path d="M491 124.5h3" stroke="#ffe711"/><path d="M494 124.5h3" stroke="#ffe40b"/><path d="M497 124.5h3" stroke="#ffe003"/><path d="M500 124.5h3" stroke="#ffde00"/><path d="M503 124.5h3" stroke="#ffdb01"/><path d="M506 124.5h3" stroke="#fed504"/><path d="M509 124.5h3" stroke="#fed007"/><path d="M512 124.5h3" stroke="#fecb0a"/><path d="M515 124.5h3" stroke="#fdc60d"/><path d="M389 127.5h3" stroke="#25b279"/><path d="M392 127.5h3" stroke="#25b277"/><path d="M395 127.5h3" stroke="#26b274"/><path d="M398 127.5h3" stroke="#27b372"/><path d="M401 127.5h3" stroke="#27b36f"/><path d="M404 127.5h3" stroke="#28b36c"/><path d="M407 127.5h3" stroke="#29b369"/><path d="M410 127.5h3" stroke="#2ab365"/><path d="M413 127.5h3" stroke="#2bb361"/><path d="M416 127.5h3" stroke="#2cb35d"/><path d="M419 127.5h3" stroke="#2db35a"/><path d="M422 127.5h3" stroke="#2eb358"/><path d="M425 127.5h3" stroke="#2fb357"/><path d="M428 127.5h3" stroke="#31b455"/><path d="M431 127.5h3" stroke="#32b454"/><path d="M434 127.5h3" stroke="#33b452"/><path d="M437 127.5h3" stroke="#35b44f"/><path d="M440 127.5h3" stroke="#37b54d"/><path d="M443 127.5h3" stroke="#39b54a"/><path d="M446 127.5h3" stroke="#4cbb58"/><path d="M449 127.5h3" stroke="#64c266"/><path d="M452 127.5h3" stroke="#84cb68"/><path d="M455 127.5h3" stroke="#a6d669"/><path d="M458 127.5h3" stroke="#c4e06a"/><path d="M461 127.5h3" stroke="#dce96a"/><path d="M464 127.5h3" stroke="#eaee69"/><path d="M467 127.5h3" stroke="#f4f066"/><path d="M470 127.5h3" stroke="#f8f162"/><path d="M473 127.5h3" stroke="#faf359"/><path d="M476 127.5h3" stroke="#fdf451"/><path d="M479 127.5h3" stroke="#fff549"/><path d="M482 127.5h3" stroke="#fff346"/><path d="M485 127.5h3" stroke="#ffef44"/><path d="M488 127.5h3" stroke="#ffec40"/><path d="M491 127.5h3" stroke="#ffe93c"/><path d="M494 127.5h3" stroke="#ffe635"/><path d="M497 127.5h3" stroke="#ffe328"/><path d="M500 127.5h3" stroke="#ffdd1c"/><path d="M503 127.5h3" stroke="#fed512"/><path d="M506 127.5h3" stroke="#fecd09"/><path d="M509 127.5h3" stroke="#fec70c"/><path d="M512 127.5h3" stroke="#fdc30e"/><path d="M515 127.5h3" stroke="#fdbe11"/><path d="M518 127.5h3" stroke="#fcb813"/><path d="M389 130.5h3" stroke="#23b27f"/><path d="M392 130.5h3" stroke="#23b27d"/><path d="M395 130.5h3" stroke="#24b27b"/><path d="M398 130.5h3" stroke="#25b279"/><path d="M401 130.5h3" stroke="#25b277"/><path d="M404 130.5h3" stroke="#26b274"/><path d="M407 130.5h3" stroke="#27b371"/><path d="M410 130.5h3" stroke="#28b36e"/><path d="M413 130.5h3" stroke="#29b36a"/><path d="M416 130.5h3" stroke="#2ab366"/><path d="M419 130.5h3" stroke="#2bb362"/><path d="M422 130.5h3" stroke="#2cb35d"/><path d="M425 130.5h3" stroke="#2db359"/><path d="M428 130.5h3" stroke="#2fb358"/><path d="M431 130.5h3" stroke="#30b356"/><path d="M434 130.5h3" stroke="#31b454"/><path d="M437 130.5h3" stroke="#38b656"/><path d="M440 130.5h3" stroke="#41b95b"/><path d="M443 130.5h3" stroke="#4abc5e"/><path d="M446 130.5h3" stroke="#54bf62"/><path d="M449 130.5h3" stroke="#6bc674"/><path d="M452 130.5h3" stroke="#86ce7e"/><path d="M455 130.5h3" stroke="#a6d880"/><path d="M458 130.5h3" stroke="#c6e381"/><path d="M461 130.5h3" stroke="#deeb83"/><path d="M464 130.5h3" stroke="#edf083"/><path d="M467 130.5h3" stroke="#f6f382"/><path d="M470 130.5h3" stroke="#faf47f"/><path d="M473 130.5h3" stroke="#fcf579"/><path d="M476 130.5h3" stroke="#fef774"/><path d="M479 130.5h3" stroke="#fff772"/><path d="M482 130.5h3" stroke="#fff472"/><path d="M485 130.5h3" stroke="#fff172"/><path d="M488 130.5h3" stroke="#ffef70"/><path d="M491 130.5h3" stroke="#ffec69"/><path d="M494 130.5h3" stroke="#ffe95d"/><path d="M497 130.5h3" stroke="#ffe351"/><path d="M500 130.5h3" stroke="#fedb43"/><path d="M503 130.5h3" stroke="#fed232"/><path d="M506 130.5h3" stroke="#fdc81f"/><path d="M509 130.5h3" stroke="#fdbe11"/><path d="M512 130.5h3" stroke="#fcb813"/><path d="M515 130.5h3" stroke="#fbb315"/><path d="M518 130.5h3" stroke="#fbae17"/><path d="M521 130.5h3" stroke="#faa919"/><path d="M389 133.5h3" stroke="#21b286"/><path d="M392 133.5h3" stroke="#22b284"/><path d="M395 133.5h3" stroke="#22b282"/><path d="M398 133.5h3" stroke="#23b280"/><path d="M401 133.5h3" stroke="#23b27e"/><path d="M404 133.5h3" stroke="#24b27c"/><path d="M407 133.5h3" stroke="#25b279"/><path d="M410 133.5h3" stroke="#25b276"/><path d="M413 133.5h3" stroke="#26b273"/><path d="M416 133.5h3" stroke="#27b36f"/><path d="M419 133.5h3" stroke="#28b36b"/><path d="M422 133.5h3" stroke="#29b367"/><path d="M425 133.5h3" stroke="#2bb362"/><path d="M428 133.5h3" stroke="#2cb35d"/><path d="M431 133.5h3" stroke="#33b55d"/><path d="M434 133.5h3" stroke="#3eb964"/><path d="M437 133.5h3" stroke="#4abd6a"/><path d="M440 133.5h3" stroke="#54c070"/><path d="M443 133.5h3" stroke="#5fc475"/><path d="M446 133.5h3" stroke="#68c779"/><path d="M449 133.5h3" stroke="#74cb7f"/><path d="M452 133.5h3" stroke="#8ad291"/><path d="M455 133.5h3" stroke="#a7da97"/><path d="M458 133.5h3" stroke="#c7e599"/><path d="M461 133.5h3" stroke="#e0ed9c"/><path d="M464 133.5h3" stroke="#f0f39e"/><path d="M467 133.5h3" stroke="#f8f69f"/><path d="M470 133.5h3" stroke="#fbf79e"/><path d="M473 133.5h3" stroke="#fdf89d"/><path d="M476 133.5h3" stroke="#fffa9d"/><path d="M479 133.5h3" stroke="#fff8a2"/><path d="M482 133.5h3" stroke="#fff6a5"/><path d="M485 133.5h3" stroke="#fff5a7"/><path d="M488 133.5h3" stroke="#fff3a1"/><path d="M491 133.5h3" stroke="#fff094"/><path d="M494 133.5h3" stroke="#ffea87"/><path d="M497 133.5h3" stroke="#fee275"/><path d="M500 133.5h3" stroke="#fed960"/><path d="M503 133.5h3" stroke="#fdce49"/><path d="M506 133.5h3" stroke="#fcc235"/><path d="M509 133.5h3" stroke="#fbb621"/><path d="M512 133.5h3" stroke="#faac18"/><path d="M515 133.5h3" stroke="#faa719"/><path d="M518 133.5h3" stroke="#f9a21b"/><path d="M521 133.5h3" stroke="#f99d1c"/><path d="M524 133.5h3" stroke="#f8981d"/><path d="M389 136.5h3" stroke="#1fb28d"/><path d="M392 136.5h3" stroke="#20b28c"/><path d="M395 136.5h3" stroke="#20b28a"/><path d="M398 136.5h3" stroke="#21b288"/><path d="M401 136.5h3" stroke="#21b286"/><path d="M404 136.5h3" stroke="#22b284"/><path d="M407 136.5h3" stroke="#22b282"/><path d="M410 136.5h3" stroke="#23b27f"/><path d="M413 136.5h3" stroke="#24b27c"/><path d="M416 136.5h3" stroke="#25b279"/><path d="M419 136.5h3" stroke="#25b276"/><path d="M422 136.5h3" stroke="#27b372"/><path d="M425 136.5h3" stroke="#28b36d"/><path d="M428 136.5h3" stroke="#34b770"/><path d="M431 136.5h3" stroke="#41bb73"/><path d="M434 136.5h3" stroke="#4ebf77"/><path d="M437 136.5h3" stroke="#5bc37c"/><path d="M440 136.5h3" stroke="#67c783"/><path d="M443 136.5h3" stroke="#72cb8a"/><path d="M446 136.5h3" stroke="#7dcf90"/><path d="M449 136.5h3" stroke="#87d395"/><path d="M452 136.5h3" stroke="#95d79d"/><path d="M455 136.5h3" stroke="#acdeac"/><path d="M458 136.5h3" stroke="#c9e7b1"/><path d="M461 136.5h3" stroke="#e3f0b5"/><path d="M464 136.5h3" stroke="#f3f6ba"/><path d="M467 136.5h3" stroke="#fbf9be"/><path d="M470 136.5h3" stroke="#fdfac2"/><path d="M473 136.5h3" stroke="#fefcc8"/><path d="M476 136.5h3" stroke="#fffcd2"/><path d="M479 136.5h3" stroke="#fffcde"/><path d="M482 136.5h3" stroke="#fffce5"/><path d="M485 136.5h3" stroke="#fffbe2"/><path d="M488 136.5h3" stroke="#fff8d4"/><path d="M491 136.5h3" stroke="#fff3bf"/><path d="M494 136.5h3" stroke="#feeba6"/><path d="M497 136.5h3" stroke="#fee18c"/><path d="M500 136.5h3" stroke="#fdd574"/><path d="M503 136.5h3" stroke="#fcc85c"/><path d="M506 136.5h3" stroke="#fbba46"/><path d="M509 136.5h3" stroke="#faad30"/><path d="M512 136.5h3" stroke="#f99f1c"/><path d="M515 136.5h3" stroke="#f8981d"/><path d="M518 136.5h3" stroke="#f7931d"/><path d="M521 136.5h3" stroke="#f78e1e"/><path d="M524 136.5h3" stroke="#f68a1e"/><path d="M527 136.5h3" stroke="#f6861f"/><path d="M389 139.5h3" stroke="#1eb295"/><path d="M392 139.5h3" stroke="#1eb294"/><path d="M395 139.5h3" stroke="#1eb292"/><path d="M398 139.5h3" stroke="#1fb291"/><path d="M401 139.5h3" stroke="#1fb28f"/><path d="M404 139.5h3" stroke="#1fb28d"/><path d="M407 139.5h3" stroke="#20b28a"/><path d="M410 139.5h3" stroke="#20b288"/><path d="M413 139.5h3" stroke="#21b286"/><path d="M416 139.5h3" stroke="#22b283"/><path d="M419 139.5h3" stroke="#23b280"/><path d="M422 139.5h3" stroke="#25b37e"/><path d="M425 139.5h3" stroke="#33b782"/><path d="M428 139.5h3" stroke="#40bc86"/><path d="M431 139.5h3" stroke="#4ec08a"/><path d="M434 139.5h3" stroke="#5cc58e"/><path d="M437 139.5h3" stroke="#6aca92"/><path d="M440 139.5h3" stroke="#78ce96"/><path d="M443 139.5h3" stroke="#84d39d"/><path d="M446 139.5h3" stroke="#91d7a4"/><path d="M449 139.5h3" stroke="#9ddbab"/><path d="M452 139.5h3" stroke="#a8dfb2"/><path d="M455 139.5h3" stroke="#b7e4bc"/><path d="M458 139.5h3" stroke="#cfebc9"/><path d="M461 139.5h3" stroke="#e8f4cf"/><path d="M464 139.5h3" stroke="#f7fad7"/><path d="M467 139.5h3" stroke="#fdfce1"/><path d="M470 139.5h3" stroke="#fffeef"/><path d="M473 139.5h18" stroke="#ffffff"/><path d="M491 139.5h3" stroke="#fff5d8"/><path d="M494 139.5h3" stroke="#fee9b7"/><path d="M497 139.5h3" stroke="#fddc9a"/><path d="M500 139.5h3" stroke="#fcce7f"/><path d="M503 139.5h3" stroke="#fbbf67"/><path d="M506 139.5h3" stroke="#faaf4e"/><path d="M509 139.5h3" stroke="#f89f37"/><path d="M512 139.5h3" stroke="#f78e21"/><path d="M515 139.5h3" stroke="#f6871f"/><path d="M518 139.5h3" stroke="#f5821f"/><path d="M521 139.5h3" stroke="#f57e20"/><path d="M524 139.5h3" stroke="#f47b20"/><path d="M527 139.5h3" stroke="#f47720"/><path d="M530 139.5h3" stroke="#f37321"/><path d="M389 142.5h3" stroke="#1cb19d"/><path d="M392 142.5h3" stroke="#1cb19c"/><path d="M395 142.5h3" stroke="#1db29b"/><path d="M398 142.5h3" stroke="#1db29a"/><path d="M401 142.5h3" stroke="#1db298"/><path d="M404 142.5h3" stroke="#1eb296"/><path d="M407 142.5h3" stroke="#1eb295"/><path d="M410 142.5h3" stroke="#1eb293"/><path d="M413 142.5h3" stroke="#1fb291"/><path d="M416 142.5h3" stroke="#1fb28e"/><path d="M419 142.5h3" stroke="#21b28c"/><path d="M422 142.5h3" stroke="#30b791"/><path d="M425 142.5h3" stroke="#3ebc95"/><path d="M428 142.5h3" stroke="#4cc19a"/><path d="M431 142.5h3" stroke="#5bc69f"/><path d="M434 142.5h3" stroke="#69cba4"/><path d="M437 142.5h3" stroke="#78cfa8"/><path d="M440 142.5h3" stroke="#87d4ad"/><path d="M443 142.5h3" stroke="#95d9b2"/><path d="M446 142.5h3" stroke="#a3deb7"/><path d="M449 142.5h3" stroke="#b1e3c0"/><path d="M452 142.5h3" stroke="#bee7c8"/><path d="M455 142.5h3" stroke="#cbecd1"/><path d="M458 142.5h3" stroke="#dbf1de"/><path d="M461 142.5h3" stroke="#f0f9ea"/><path d="M464 142.5h3" stroke="#fdfef8"/><path d="M467 142.5h24" stroke="#ffffff"/><path d="M491 142.5h3" stroke="#fef3dd"/><path d="M494 142.5h3" stroke="#fde3bb"/><path d="M497 142.5h3" stroke="#fcd39d"/><path d="M500 142.5h3" stroke="#fbc181"/><path d="M503 142.5h3" stroke="#f9b068"/><path d="M506 142.5h3" stroke="#f79f51"/><path d="M509 142.5h3" stroke="#f68d3a"/><path d="M512 142.5h3" stroke="#f47c25"/><path d="M515 142.5h3" stroke="#f37420"/><path d="M518 142.5h3" stroke="#f36f21"/><path d="M521 142.5h3" stroke="#f36b21"/><path d="M524 142.5h3" stroke="#f26821"/><path d="M527 142.5h3" stroke="#f26422"/><path d="M530 142.5h3" stroke="#f26122"/><path d="M533 142.5h3" stroke="#f15f22"/><path d="M392 145.5h3" stroke="#1bb1a5"/><path d="M395 145.5h3" stroke="#1bb1a4"/><path d="M398 145.5h3" stroke="#1bb1a3"/><path d="M401 145.5h3" stroke="#1bb1a2"/><path d="M404 145.5h3" stroke="#1cb1a0"/><path d="M407 145.5h3" stroke="#1cb19f"/><path d="M410 145.5h3" stroke="#1cb19e"/><path d="M413 145.5h3" stroke="#1cb19c"/><path d="M416 145.5h3" stroke="#1db29a"/><path d="M419 145.5h3" stroke="#29b59e"/><path d="M422 145.5h3" stroke="#38bba2"/><path d="M425 145.5h3" stroke="#47c0a7"/><path d="M428 145.5h3" stroke="#57c5ac"/><path d="M431 145.5h3" stroke="#66cab1"/><path d="M434 145.5h3" stroke="#76d0b7"/><path d="M437 145.5h3" stroke="#85d5bc"/><path d="M440 145.5h3" stroke="#95dac2"/><path d="M443 145.5h3" stroke="#a4dfc8"/><path d="M446 145.5h3" stroke="#b4e4ce"/><path d="M449 145.5h3" stroke="#c4ead5"/><path d="M452 145.5h3" stroke="#d3efdd"/><path d="M455 145.5h3" stroke="#e3f5e8"/><path d="M458 145.5h3" stroke="#f3fbf5"/><path d="M461 145.5h27" stroke="#ffffff"/><path d="M488 145.5h3" stroke="#fffefe"/><path d="M491 145.5h3" stroke="#fde9d3"/><path d="M494 145.5h3" stroke="#fcd6b4"/><path d="M497 145.5h3" stroke="#fac398"/><path d="M500 145.5h3" stroke="#f8b17f"/><path d="M503 145.5h3" stroke="#f79e69"/><path d="M506 145.5h3" stroke="#f58c54"/><path d="M509 145.5h3" stroke="#f47a40"/><path d="M512 145.5h3" stroke="#f2692d"/><path d="M515 145.5h3" stroke="#f15d22"/><path d="M518 145.5h3" stroke="#f15a22"/><path d="M521 145.5h3" stroke="#f15723"/><path d="M524 145.5h3" stroke="#f05423"/><path d="M527 145.5h3" stroke="#f05223"/><path d="M530 145.5h3" stroke="#f05123"/><path d="M533 145.5h3" stroke="#f04f23"/><path d="M536 145.5h3" stroke="#f04e23"/><path d="M392 148.5h6" stroke="#19b1ad"/><path d="M398 148.5h3" stroke="#19b1ac"/><path d="M401 148.5h6" stroke="#19b1ab"/><path d="M407 148.5h3" stroke="#1ab1aa"/><path d="M410 148.5h3" stroke="#1ab1a9"/><path d="M413 148.5h3" stroke="#1ab1a8"/><path d="M416 148.5h3" stroke="#20b3a9"/><path d="M419 148.5h3" stroke="#30b9ae"/><path d="M422 148.5h3" stroke="#40beb3"/><path d="M425 148.5h3" stroke="#4fc3b8"/><path d="M428 148.5h3" stroke="#5fc9bd"/><path d="M431 148.5h3" stroke="#70cec2"/><path d="M434 148.5h3" stroke="#80d4c8"/><path d="M437 148.5h3" stroke="#91d9cd"/><path d="M440 148.5h3" stroke="#a2dfd3"/><path d="M443 148.5h3" stroke="#b3e5da"/><path d="M446 148.5h3" stroke="#c4ebe1"/><path d="M449 148.5h3" stroke="#d6f1e8"/><path d="M452 148.5h3" stroke="#e8f7f1"/><path d="M455 148.5h3" stroke="#fdfefe"/><path d="M458 148.5h30" stroke="#ffffff"/><path d="M488 148.5h3" stroke="#feeee5"/><path d="M491 148.5h3" stroke="#fcd8c6"/><path d="M494 148.5h3" stroke="#fac4ad"/><path d="M497 148.5h3" stroke="#f8b095"/><path d="M500 148.5h3" stroke="#f79d80"/><path d="M503 148.5h3" stroke="#f58b6c"/><path d="M506 148.5h3" stroke="#f37a58"/><path d="M509 148.5h3" stroke="#f26945"/><path d="M512 148.5h3" stroke="#f15833"/><path d="M515 148.5h3" stroke="#ef4a23"/><path d="M518 148.5h3" stroke="#ef4923"/><path d="M521 148.5h3" stroke="#ef4823"/><path d="M524 148.5h3" stroke="#ef4723"/><path d="M527 148.5h3" stroke="#ef4623"/><path d="M530 148.5h3" stroke="#ef4523"/><path d="M533 148.5h6" stroke="#ef4423"/><path d="M539 148.5h3" stroke="#ef4323"/><path d="M392 151.5h3" stroke="#17b1b6"/><path d="M395 151.5h15" stroke="#17b1b5"/><path d="M410 151.5h6" stroke="#18b1b4"/><path d="M416 151.5h3" stroke="#27b6b9"/><path d="M419 151.5h3" stroke="#37bbbd"/><path d="M422 151.5h3" stroke="#47c1c2"/><path d="M425 151.5h3" stroke="#58c6c7"/><path d="M428 151.5h3" stroke="#68cccc"/><path d="M431 151.5h3" stroke="#79d2d2"/><path d="M434 151.5h3" stroke="#8ad8d7"/><path d="M437 151.5h3" stroke="#9cdddd"/><path d="M440 151.5h3" stroke="#aee4e2"/><path d="M443 151.5h3" stroke="#c1eae9"/><path d="M446 151.5h3" stroke="#d4f1ef"/><path d="M449 151.5h3" stroke="#eaf8f7"/><path d="M452 151.5h33" stroke="#ffffff"/><path d="M485 151.5h3" stroke="#fef1ef"/><path d="M488 151.5h3" stroke="#fcdad4"/><path d="M491 151.5h3" stroke="#fac6bc"/><path d="M494 151.5h3" stroke="#f9b3a7"/><path d="M497 151.5h3" stroke="#f7a092"/><path d="M500 151.5h3" stroke="#f58f7f"/><path d="M503 151.5h3" stroke="#f47d6c"/><path d="M506 151.5h3" stroke="#f36d59"/><path d="M509 151.5h3" stroke="#f15c47"/><path d="M512 151.5h3" stroke="#f04c36"/><path d="M515 151.5h3" stroke="#ef3c25"/><path d="M518 151.5h6" stroke="#ee3b24"/><path d="M524 151.5h9" stroke="#ee3a24"/><path d="M533 151.5h12" stroke="#ee3924"/><path d="M392 154.5h6" stroke="#16b1be"/><path d="M398 154.5h12" stroke="#15b0bf"/><path d="M410 154.5h3" stroke="#15b0c0"/><path d="M413 154.5h3" stroke="#1eb3c2"/><path d="M416 154.5h3" stroke="#2eb9c7"/><path d="M419 154.5h3" stroke="#3ebecc"/><path d="M422 154.5h3" stroke="#4fc4d0"/><path d="M425 154.5h3" stroke="#60cad5"/><path d="M428 154.5h3" stroke="#71cfda"/><path d="M431 154.5h3" stroke="#83d5df"/><path d="M434 154.5h3" stroke="#95dbe4"/><path d="M437 154.5h3" stroke="#a8e2e9"/><path d="M440 154.5h3" stroke="#bbe8ef"/><path d="M443 154.5h3" stroke="#d0eff4"/><path d="M446 154.5h3" stroke="#e8f7fa"/><path d="M449 154.5h33" stroke="#ffffff"/><path d="M482 154.5h3" stroke="#fef1f1"/><path d="M485 154.5h3" stroke="#fcdbdb"/><path d="M488 154.5h3" stroke="#fac6c7"/><path d="M491 154.5h3" stroke="#f9b3b4"/><path d="M494 154.5h3" stroke="#f7a1a1"/><path d="M497 154.5h3" stroke="#f6908f"/><path d="M500 154.5h3" stroke="#f57f7d"/><path d="M503 154.5h3" stroke="#f36e6b"/><path d="M506 154.5h3" stroke="#f25e5a"/><path d="M509 154.5h3" stroke="#f04e49"/><path d="M512 154.5h3" stroke="#ef3e38"/><path d="M515 154.5h3" stroke="#ee2e27"/><path d="M518 154.5h6" stroke="#ee2c24"/><path d="M524 154.5h9" stroke="#ee2d24"/><path d="M533 154.5h12" stroke="#ee2e24"/><path d="M545 154.5h3" stroke="#ee2f24"/><path d="M392 157.5h6" stroke="#14b0c7"/><path d="M398 157.5h6" stroke="#14b0c8"/><path d="M404 157.5h3" stroke="#13b0c9"/><path d="M407 157.5h3" stroke="#13b0ca"/><path d="M410 157.5h3" stroke="#14b0cb"/><path d="M413 157.5h3" stroke="#24b6cf"/><path d="M416 157.5h3" stroke="#34bbd4"/><path d="M419 157.5h3" stroke="#45c1d9"/><path d="M422 157.5h3" stroke="#56c7dd"/><path d="M425 157.5h3" stroke="#67cce1"/><path d="M428 157.5h3" stroke="#79d2e5"/><path d="M431 157.5h3" stroke="#8bd8e8"/><path d="M434 157.5h3" stroke="#9edeec"/><path d="M437 157.5h3" stroke="#b2e4f0"/><path d="M440 157.5h3" stroke="#c8ecf5"/><path d="M443 157.5h3" stroke="#e1f4f9"/><path d="M446 157.5h33" stroke="#ffffff"/><path d="M479 157.5h3" stroke="#fef0f1"/><path d="M482 157.5h3" stroke="#fcdee1"/><path d="M485 157.5h3" stroke="#fbcdd0"/><path d="M488 157.5h3" stroke="#fabbbe"/><path d="M491 157.5h3" stroke="#f8aaad"/><path d="M494 157.5h3" stroke="#f7989c"/><path d="M497 157.5h3" stroke="#f5878b"/><path d="M500 157.5h3" stroke="#f4767b"/><path d="M503 157.5h3" stroke="#f3656a"/><path d="M506 157.5h3" stroke="#f1555a"/><path d="M509 157.5h3" stroke="#f04449"/><path d="M512 157.5h3" stroke="#ef3439"/><path d="M515 157.5h3" stroke="#ed2429"/><path d="M518 157.5h6" stroke="#ed1f24"/><path d="M524 157.5h9" stroke="#ed2024"/><path d="M533 157.5h3" stroke="#ed2124"/><path d="M536 157.5h6" stroke="#ed2224"/><path d="M542 157.5h3" stroke="#ed2324"/><path d="M545 157.5h6" stroke="#ed2424"/><path d="M395 160.5h6" stroke="#12b0d0"/><path d="M401 160.5h6" stroke="#12afd0"/><path d="M407 160.5h3" stroke="#12aed1"/><path d="M410 160.5h3" stroke="#17b0d2"/><path d="M413 160.5h3" stroke="#27b5d5"/><path d="M416 160.5h3" stroke="#38bad9"/><path d="M419 160.5h3" stroke="#48bfdc"/><path d="M422 160.5h3" stroke="#5ac5e0"/><path d="M425 160.5h3" stroke="#6bcae3"/><path d="M428 160.5h3" stroke="#7ed0e7"/><path d="M431 160.5h3" stroke="#91d7eb"/><path d="M434 160.5h3" stroke="#a6deef"/><path d="M437 160.5h3" stroke="#bce6f3"/><path d="M440 160.5h3" stroke="#d4eff8"/><path d="M443 160.5h3" stroke="#f1fafd"/><path d="M446 160.5h27" stroke="#ffffff"/><path d="M473 160.5h3" stroke="#fffbfc"/><path d="M476 160.5h3" stroke="#feedf0"/><path d="M479 160.5h3" stroke="#fcdfe4"/><path d="M482 160.5h3" stroke="#fbd1d7"/><path d="M485 160.5h3" stroke="#fac2c8"/><path d="M488 160.5h3" stroke="#f9b2b9"/><path d="M491 160.5h3" stroke="#f8a2a9"/><path d="M494 160.5h3" stroke="#f69299"/><path d="M497 160.5h3" stroke="#f58289"/><path d="M500 160.5h3" stroke="#f47179"/><path d="M503 160.5h3" stroke="#f36169"/><path d="M506 160.5h3" stroke="#f15159"/><path d="M509 160.5h3" stroke="#f0414a"/><path d="M512 160.5h3" stroke="#ef313a"/><path d="M515 160.5h3" stroke="#ed222a"/><path d="M518 160.5h6" stroke="#ed1c24"/><path d="M524 160.5h9" stroke="#ed1d24"/><path d="M533 160.5h12" stroke="#ed1e24"/><path d="M545 160.5h9" stroke="#ed1f24"/><path d="M395 163.5h3" stroke="#11add1"/><path d="M398 163.5h3" stroke="#11acd1"/><path d="M401 163.5h3" stroke="#11acd2"/><path d="M404 163.5h3" stroke="#11abd2"/><path d="M407 163.5h3" stroke="#11aad2"/><path d="M410 163.5h3" stroke="#18acd4"/><path d="M413 163.5h3" stroke="#29b2d7"/><path d="M416 163.5h3" stroke="#39b7db"/><path d="M419 163.5h3" stroke="#4bbdde"/><path d="M422 163.5h3" stroke="#5dc2e2"/><path d="M425 163.5h3" stroke="#6fc9e5"/><path d="M428 163.5h3" stroke="#83cfe9"/><path d="M431 163.5h3" stroke="#97d6ed"/><path d="M434 163.5h3" stroke="#acdef1"/><path d="M437 163.5h3" stroke="#c4e7f5"/><path d="M440 163.5h3" stroke="#ddf1fa"/><path d="M443 163.5h3" stroke="#fcfeff"/><path d="M446 163.5h24" stroke="#ffffff"/><path d="M470 163.5h3" stroke="#fdf1f7"/><path d="M473 163.5h3" stroke="#fde6ef"/><path d="M476 163.5h3" stroke="#fcdce5"/><path d="M479 163.5h3" stroke="#fbd0da"/><path d="M482 163.5h3" stroke="#fac4ce"/><path d="M485 163.5h3" stroke="#f9b7c1"/><path d="M488 163.5h3" stroke="#f8a9b4"/><path d="M491 163.5h3" stroke="#f79ba6"/><path d="M494 163.5h3" stroke="#f68c97"/><path d="M497 163.5h3" stroke="#f57d88"/><path d="M500 163.5h3" stroke="#f36d79"/><path d="M503 163.5h3" stroke="#f25e69"/><path d="M506 163.5h3" stroke="#f14e5a"/><path d="M509 163.5h3" stroke="#f03f4a"/><path d="M512 163.5h3" stroke="#ef2f3b"/><path d="M515 163.5h3" stroke="#ed202c"/><path d="M518 163.5h3" stroke="#ed1f2a"/><path d="M521 163.5h3" stroke="#ed1e29"/><path d="M524 163.5h3" stroke="#ed1e28"/><path d="M527 163.5h3" stroke="#ed1d27"/><path d="M530 163.5h6" stroke="#ed1d26"/><path d="M536 163.5h3" stroke="#ed1c25"/><path d="M539 163.5h9" stroke="#ed1c24"/><path d="M548 163.5h6" stroke="#ed1d24"/><path d="M395 166.5h3" stroke="#11a9d2"/><path d="M398 166.5h3" stroke="#10a9d3"/><path d="M401 166.5h3" stroke="#10a8d3"/><path d="M404 166.5h6" stroke="#10a7d3"/><path d="M410 166.5h3" stroke="#19a9d5"/><path d="M413 166.5h3" stroke="#2aaed9"/><path d="M416 166.5h3" stroke="#3bb4dc"/><path d="M419 166.5h3" stroke="#4dbae0"/><path d="M422 166.5h3" stroke="#5fc0e3"/><path d="M425 166.5h3" stroke="#72c7e7"/><path d="M428 166.5h3" stroke="#85ceeb"/><path d="M431 166.5h3" stroke="#9ad5ee"/><path d="M434 166.5h3" stroke="#b0ddf2"/><path d="M437 166.5h3" stroke="#c7e5f5"/><path d="M440 166.5h3" stroke="#deeff8"/><path d="M443 166.5h3" stroke="#f6fafd"/><path d="M446 166.5h15" stroke="#ffffff"/><path d="M461 166.5h3" stroke="#fcfafd"/><path d="M464 166.5h3" stroke="#fbeef7"/><path d="M467 166.5h3" stroke="#fae4f2"/><path d="M470 166.5h3" stroke="#fbdcec"/><path d="M473 166.5h3" stroke="#fbd4e4"/><path d="M476 166.5h3" stroke="#facbdb"/><path d="M479 166.5h3" stroke="#fac1d1"/><path d="M482 166.5h3" stroke="#f9b7c6"/><path d="M485 166.5h3" stroke="#f8abba"/><path d="M488 166.5h3" stroke="#f79fae"/><path d="M491 166.5h3" stroke="#f692a1"/><path d="M494 166.5h3" stroke="#f58594"/><path d="M497 166.5h3" stroke="#f47887"/><path d="M500 166.5h3" stroke="#f36978"/><path d="M503 166.5h3" stroke="#f25a69"/><path d="M506 166.5h3" stroke="#f14b5a"/><path d="M509 166.5h3" stroke="#f03c4b"/><path d="M512 166.5h3" stroke="#ee2d3c"/><path d="M515 166.5h3" stroke="#ed2231"/><path d="M518 166.5h3" stroke="#ed212f"/><path d="M521 166.5h3" stroke="#ed202e"/><path d="M524 166.5h3" stroke="#ed202d"/><path d="M527 166.5h3" stroke="#ed1f2c"/><path d="M530 166.5h3" stroke="#ed1f2b"/><path d="M533 166.5h3" stroke="#ed1f2a"/><path d="M536 166.5h3" stroke="#ed1e29"/><path d="M539 166.5h6" stroke="#ed1e28"/><path d="M545 166.5h3" stroke="#ed1d27"/><path d="M548 166.5h6" stroke="#ed1d26"/><path d="M554 166.5h3" stroke="#ed1d25"/><path d="M557 166.5h3" stroke="#ed1c25"/><path d="M398 169.5h3" stroke="#10a5d4"/><path d="M401 169.5h3" stroke="#0fa5d4"/><path d="M404 169.5h3" stroke="#0fa4d4"/><path d="M407 169.5h3" stroke="#0fa3d5"/><path d="M410 169.5h3" stroke="#19a6d7"/><path d="M413 169.5h3" stroke="#2aabda"/><path d="M416 169.5h3" stroke="#3bb1de"/><path d="M419 169.5h3" stroke="#4db7e1"/><path d="M422 169.5h3" stroke="#5fbde5"/><path d="M425 169.5h3" stroke="#72c4e8"/><path d="M428 169.5h3" stroke="#86caea"/><path d="M431 169.5h3" stroke="#9bd1ec"/><path d="M434 169.5h3" stroke="#afd8ef"/><path d="M437 169.5h3" stroke="#c2e0f1"/><path d="M440 169.5h3" stroke="#d4e7f4"/><path d="M443 169.5h3" stroke="#e3eef7"/><path d="M446 169.5h3" stroke="#edf4fa"/><path d="M449 169.5h3" stroke="#f1f6fa"/><path d="M452 169.5h3" stroke="#f0f3f9"/><path d="M455 169.5h3" stroke="#ecedf5"/><path d="M458 169.5h3" stroke="#ece4f2"/><path d="M461 169.5h3" stroke="#f0dcef"/><path d="M464 169.5h3" stroke="#f5d5ec"/><path d="M467 169.5h3" stroke="#f7cfe7"/><path d="M470 169.5h3" stroke="#f8c8e2"/><path d="M473 169.5h3" stroke="#f8c2da"/><path d="M476 169.5h3" stroke="#f9bad2"/><path d="M479 169.5h3" stroke="#f8b2c9"/><path d="M482 169.5h3" stroke="#f8a8bf"/><path d="M485 169.5h3" stroke="#f79fb4"/><path d="M488 169.5h3" stroke="#f694a8"/><path d="M491 169.5h3" stroke="#f5889c"/><path d="M494 169.5h3" stroke="#f57c8f"/><path d="M497 169.5h3" stroke="#f46f83"/><path d="M500 169.5h3" stroke="#f36376"/><path d="M503 169.5h3" stroke="#f25669"/><path d="M506 169.5h3" stroke="#f0485b"/><path d="M509 169.5h3" stroke="#ef394c"/><path d="M512 169.5h3" stroke="#ee2a3d"/><path d="M515 169.5h3" stroke="#ee2437"/><path d="M518 169.5h3" stroke="#ee2335"/><path d="M521 169.5h3" stroke="#ee2333"/><path d="M524 169.5h3" stroke="#ed2232"/><path d="M527 169.5h3" stroke="#ed2130"/><path d="M530 169.5h3" stroke="#ed212f"/><path d="M533 169.5h3" stroke="#ed202e"/><path d="M536 169.5h3" stroke="#ed202d"/><path d="M539 169.5h3" stroke="#ed202c"/><path d="M542 169.5h6" stroke="#ed1f2b"/><path d="M548 169.5h3" stroke="#ed1f2a"/><path d="M551 169.5h6" stroke="#ed1e29"/><path d="M398 172.5h3" stroke="#0fa2d5"/><path d="M401 172.5h3" stroke="#0fa1d5"/><path d="M404 172.5h3" stroke="#0ea0d6"/><path d="M407 172.5h3" stroke="#0e9fd6"/><path d="M410 172.5h3" stroke="#18a2d8"/><path d="M413 172.5h3" stroke="#29a7dc"/><path d="M416 172.5h3" stroke="#3aaddf"/><path d="M419 172.5h3" stroke="#4cb3e1"/><path d="M422 172.5h3" stroke="#5fb8e3"/><path d="M425 172.5h3" stroke="#72bee4"/><path d="M428 172.5h3" stroke="#84c4e6"/><path d="M431 172.5h3" stroke="#96cae8"/><path d="M434 172.5h3" stroke="#a7cfea"/><path d="M437 172.5h3" stroke="#b5d5ec"/><path d="M440 172.5h3" stroke="#c2daee"/><path d="M443 172.5h3" stroke="#cbddef"/><path d="M446 172.5h3" stroke="#d0deef"/><path d="M449 172.5h3" stroke="#d2ddee"/><path d="M452 172.5h3" stroke="#d3d8ea"/><path d="M455 172.5h3" stroke="#d5d0e7"/><path d="M458 172.5h3" stroke="#e2c9e5"/><path d="M461 172.5h3" stroke="#e9c4e3"/><path d="M464 172.5h3" stroke="#f1bfe1"/><path d="M467 172.5h3" stroke="#f3bbdd"/><path d="M470 172.5h3" stroke="#f5b6d8"/><path d="M473 172.5h3" stroke="#f6b0d1"/><path d="M476 172.5h3" stroke="#f6a9ca"/><path d="M479 172.5h3" stroke="#f7a2c1"/><path d="M482 172.5h3" stroke="#f69ab7"/><path d="M485 172.5h3" stroke="#f691ad"/><path d="M488 172.5h3" stroke="#f588a2"/><path d="M491 172.5h3" stroke="#f57d97"/><path d="M494 172.5h3" stroke="#f4728b"/><path d="M497 172.5h3" stroke="#f3667f"/><path d="M500 172.5h3" stroke="#f25a72"/><path d="M503 172.5h3" stroke="#f14e66"/><path d="M506 172.5h3" stroke="#f04259"/><path d="M509 172.5h3" stroke="#ef354c"/><path d="M512 172.5h3" stroke="#ee273e"/><path d="M515 172.5h3" stroke="#ee263c"/><path d="M518 172.5h3" stroke="#ee253a"/><path d="M521 172.5h3" stroke="#ee2538"/><path d="M524 172.5h3" stroke="#ee2437"/><path d="M527 172.5h3" stroke="#ee2335"/><path d="M530 172.5h3" stroke="#ee2334"/><path d="M533 172.5h3" stroke="#ee2232"/><path d="M536 172.5h3" stroke="#ed2231"/><path d="M539 172.5h3" stroke="#ed2130"/><path d="M542 172.5h3" stroke="#ed212f"/><path d="M545 172.5h3" stroke="#ed202e"/><path d="M548 172.5h3" stroke="#ed202d"/><path d="M398 175.5h3" stroke="#0e9fd6"/><path d="M401 175.5h3" stroke="#0e9ed7"/><path d="M404 175.5h3" stroke="#0e9dd7"/><path d="M407 175.5h3" stroke="#0d9cd7"/><path d="M410 175.5h3" stroke="#159dd9"/><path d="M413 175.5h3" stroke="#27a2da"/><path d="M416 175.5h3" stroke="#39a7dc"/><path d="M419 175.5h3" stroke="#4babdd"/><path d="M422 175.5h3" stroke="#5cb0de"/><path d="M425 175.5h3" stroke="#6db5e0"/><path d="M428 175.5h3" stroke="#7dbae1"/><path d="M431 175.5h3" stroke="#8cbee2"/><path d="M434 175.5h3" stroke="#99c3e4"/><path d="M437 175.5h3" stroke="#a5c7e5"/><path d="M440 175.5h3" stroke="#adc9e5"/><path d="M443 175.5h3" stroke="#b3cae5"/><path d="M446 175.5h3" stroke="#b7c8e3"/><path d="M449 175.5h3" stroke="#bbc5e0"/><path d="M452 175.5h3" stroke="#bdbddc"/><path d="M455 175.5h3" stroke="#ccb6db"/><path d="M458 175.5h3" stroke="#dab2da"/><path d="M461 175.5h3" stroke="#e4aed9"/><path d="M464 175.5h3" stroke="#edaad8"/><path d="M467 175.5h3" stroke="#efa7d3"/><path d="M470 175.5h3" stroke="#f2a3cf"/><path d="M473 175.5h3" stroke="#f49ec9"/><path d="M476 175.5h3" stroke="#f499c1"/><path d="M479 175.5h3" stroke="#f592b9"/><path d="M482 175.5h3" stroke="#f58bb0"/><path d="M485 175.5h3" stroke="#f483a6"/><path d="M488 175.5h3" stroke="#f47b9c"/><path d="M491 175.5h3" stroke="#f37291"/><path d="M494 175.5h3" stroke="#f36886"/><path d="M497 175.5h3" stroke="#f25c7a"/><path d="M500 175.5h3" stroke="#f1516e"/><path d="M503 175.5h3" stroke="#f04562"/><path d="M506 175.5h3" stroke="#ef3956"/><path d="M509 175.5h3" stroke="#ee2d49"/><path d="M512 175.5h3" stroke="#ee2943"/><path d="M515 175.5h3" stroke="#ee2841"/><path d="M518 175.5h3" stroke="#ee283f"/><path d="M521 175.5h3" stroke="#ee273d"/><path d="M524 175.5h3" stroke="#ee263b"/><path d="M527 175.5h3" stroke="#ee2539"/><path d="M530 175.5h3" stroke="#ee2538"/><path d="M533 175.5h3" stroke="#ee2436"/><path d="M536 175.5h3" stroke="#ee2335"/><path d="M539 175.5h3" stroke="#ee2334"/><path d="M542 175.5h3" stroke="#ee2233"/><path d="M398 178.5h3" stroke="#0d9cd7"/><path d="M401 178.5h3" stroke="#0d9bd8"/><path d="M404 178.5h3" stroke="#0d99d7"/><path d="M407 178.5h3" stroke="#0f97d6"/><path d="M410 178.5h3" stroke="#1496d5"/><path d="M413 178.5h3" stroke="#259ad6"/><path d="M416 178.5h3" stroke="#369ed7"/><path d="M419 178.5h3" stroke="#46a2d8"/><path d="M422 178.5h3" stroke="#55a6d9"/><path d="M425 178.5h3" stroke="#64aada"/><path d="M428 178.5h3" stroke="#71adda"/><path d="M431 178.5h3" stroke="#7eb2db"/><path d="M434 178.5h3" stroke="#89b5dc"/><path d="M437 178.5h3" stroke="#92b7dc"/><path d="M440 178.5h3" stroke="#98b7dc"/><path d="M443 178.5h3" stroke="#9db6da"/><path d="M446 178.5h3" stroke="#a4b2d7"/><path d="M449 178.5h3" stroke="#a7acd3"/><path d="M452 178.5h3" stroke="#b2a5d1"/><path d="M455 178.5h3" stroke="#c99ed1"/><path d="M458 178.5h3" stroke="#d49cd1"/><path d="M461 178.5h3" stroke="#e09ad0"/><path d="M464 178.5h3" stroke="#e997ce"/><path d="M467 178.5h3" stroke="#ec95ca"/><path d="M470 178.5h3" stroke="#ef91c6"/><path d="M473 178.5h3" stroke="#f28dc1"/><path d="M476 178.5h3" stroke="#f288b9"/><path d="M479 178.5h3" stroke="#f382b2"/><path d="M482 178.5h3" stroke="#f37ca9"/><path d="M485 178.5h3" stroke="#f375a0"/><path d="M488 178.5h3" stroke="#f26d96"/><path d="M491 178.5h3" stroke="#f2658c"/><path d="M494 178.5h3" stroke="#f25c81"/><path d="M497 178.5h3" stroke="#f15376"/><path d="M500 178.5h3" stroke="#f0486a"/><path d="M503 178.5h3" stroke="#ef3c5f"/><path d="M506 178.5h3" stroke="#ef3153"/><path d="M509 178.5h3" stroke="#ee2a4a"/><path d="M512 178.5h3" stroke="#ee2948"/><path d="M515 178.5h3" stroke="#ee2945"/><path d="M518 178.5h3" stroke="#ee2943"/><path d="M521 178.5h3" stroke="#ee2841"/><path d="M524 178.5h3" stroke="#ee2840"/><path d="M527 178.5h3" stroke="#ee273e"/><path d="M530 178.5h3" stroke="#ee263c"/><path d="M533 178.5h3" stroke="#ee263a"/><path d="M401 181.5h3" stroke="#0f96d5"/><path d="M404 181.5h3" stroke="#1093d4"/><path d="M407 181.5h3" stroke="#1291d2"/><path d="M410 181.5h3" stroke="#138ed0"/><path d="M413 181.5h3" stroke="#2090d0"/><path d="M416 181.5h3" stroke="#2f94d1"/><path d="M419 181.5h3" stroke="#3e97d1"/><path d="M422 181.5h3" stroke="#4b9ad2"/><path d="M425 181.5h3" stroke="#589dd3"/><path d="M428 181.5h3" stroke="#64a1d3"/><path d="M431 181.5h3" stroke="#6fa3d4"/><path d="M434 181.5h3" stroke="#77a5d4"/><path d="M437 181.5h3" stroke="#7ea5d3"/><path d="M440 181.5h3" stroke="#84a4d1"/><path d="M443 181.5h3" stroke="#8ca0ce"/><path d="M446 181.5h3" stroke="#929bca"/><path d="M449 181.5h3" stroke="#9793c6"/><path d="M452 181.5h3" stroke="#af8ec7"/><path d="M455 181.5h3" stroke="#c38ac7"/><path d="M458 181.5h3" stroke="#cf88c7"/><path d="M461 181.5h3" stroke="#dc86c7"/><path d="M464 181.5h3" stroke="#e584c5"/><path d="M467 181.5h3" stroke="#e882c1"/><path d="M470 181.5h3" stroke="#ec80bd"/><path d="M473 181.5h3" stroke="#ef7cb8"/><path d="M476 181.5h3" stroke="#f078b2"/><path d="M479 181.5h3" stroke="#f073aa"/><path d="M482 181.5h3" stroke="#f16da2"/><path d="M485 181.5h3" stroke="#f1669a"/><path d="M488 181.5h3" stroke="#f15f90"/><path d="M491 181.5h3" stroke="#f15886"/><path d="M494 181.5h3" stroke="#f04f7c"/><path d="M497 181.5h3" stroke="#f04771"/><path d="M500 181.5h3" stroke="#ef3e66"/><path d="M503 181.5h3" stroke="#ef335b"/><path d="M506 181.5h3" stroke="#ee2b51"/><path d="M509 181.5h3" stroke="#ee2a4e"/><path d="M512 181.5h3" stroke="#ee2a4c"/><path d="M515 181.5h3" stroke="#ee2a49"/><path d="M518 181.5h3" stroke="#ee2947"/><path d="M521 181.5h3" stroke="#ee2945"/><path d="M524 181.5h3" stroke="#ee2943"/><path d="M527 181.5h3" stroke="#ee2842"/><path d="M401 184.5h3" stroke="#1290d2"/><path d="M404 184.5h3" stroke="#138ed0"/><path d="M407 184.5h3" stroke="#158bce"/><path d="M410 184.5h3" stroke="#1688cc"/><path d="M413 184.5h3" stroke="#1985ca"/><path d="M416 184.5h3" stroke="#2687ca"/><path d="M419 184.5h3" stroke="#338aca"/><path d="M422 184.5h3" stroke="#3f8dcb"/><path d="M425 184.5h3" stroke="#4b90cb"/><path d="M428 184.5h3" stroke="#5592cb"/><path d="M431 184.5h3" stroke="#5e93cb"/><path d="M434 184.5h3" stroke="#6593ca"/><path d="M437 184.5h3" stroke="#6b92c9"/><path d="M440 184.5h3" stroke="#748fc6"/><path d="M443 184.5h3" stroke="#7c8bc2"/><path d="M446 184.5h3" stroke="#8183be"/><path d="M449 184.5h3" stroke="#947dbd"/><path d="M452 184.5h3" stroke="#b077be"/><path d="M455 184.5h3" stroke="#be76be"/><path d="M458 184.5h3" stroke="#cc75bf"/><path d="M461 184.5h3" stroke="#da74bf"/><path d="M464 184.5h3" stroke="#e172bd"/><path d="M467 184.5h3" stroke="#e571b9"/><path d="M470 184.5h3" stroke="#e86fb5"/><path d="M473 184.5h3" stroke="#ec6bb0"/><path d="M476 184.5h3" stroke="#ee68aa"/><path d="M479 184.5h3" stroke="#ee63a3"/><path d="M482 184.5h3" stroke="#ef5e9b"/><path d="M485 184.5h3" stroke="#ef5893"/><path d="M488 184.5h3" stroke="#f0518a"/><path d="M491 184.5h3" stroke="#ef4a80"/><path d="M494 184.5h3" stroke="#ef4376"/><path d="M497 184.5h3" stroke="#ef3b6c"/><path d="M500 184.5h3" stroke="#ee3262"/><path d="M503 184.5h3" stroke="#ee2c59"/><path d="M506 184.5h3" stroke="#ee2c55"/><path d="M509 184.5h3" stroke="#ee2b52"/><path d="M512 184.5h3" stroke="#ee2b50"/><path d="M515 184.5h3" stroke="#ee2a4d"/><path d="M518 184.5h3" stroke="#ee2a4b"/><path d="M404 187.5h3" stroke="#1688cc"/><path d="M407 187.5h3" stroke="#1785ca"/><path d="M410 187.5h3" stroke="#1982c8"/><path d="M413 187.5h3" stroke="#1b7ec6"/><path d="M416 187.5h3" stroke="#1c7bc3"/><path d="M419 187.5h3" stroke="#287dc3"/><path d="M422 187.5h3" stroke="#3380c3"/><path d="M425 187.5h3" stroke="#3d81c3"/><path d="M428 187.5h3" stroke="#4582c3"/><path d="M431 187.5h3" stroke="#4d82c2"/><path d="M434 187.5h3" stroke="#5381c0"/><path d="M437 187.5h3" stroke="#5d7ebd"/><path d="M440 187.5h3" stroke="#677bba"/><path d="M443 187.5h3" stroke="#6d74b5"/><path d="M446 187.5h3" stroke="#776cb2"/><path d="M449 187.5h3" stroke="#9467b4"/><path d="M452 187.5h3" stroke="#ac64b5"/><path d="M455 187.5h3" stroke="#ba64b6"/><path d="M458 187.5h3" stroke="#c863b6"/><path d="M461 187.5h3" stroke="#d761b6"/><path d="M464 187.5h3" stroke="#de61b4"/><path d="M467 187.5h3" stroke="#e25fb0"/><path d="M470 187.5h3" stroke="#e55eac"/><path d="M473 187.5h3" stroke="#e95ba8"/><path d="M476 187.5h3" stroke="#eb57a2"/><path d="M479 187.5h3" stroke="#ec539b"/><path d="M482 187.5h3" stroke="#ed4f94"/><path d="M485 187.5h3" stroke="#ed498c"/><path d="M488 187.5h3" stroke="#ee4384"/><path d="M491 187.5h3" stroke="#ee3c7a"/><path d="M494 187.5h3" stroke="#ee3571"/><path d="M497 187.5h3" stroke="#ed2e67"/><path d="M500 187.5h3" stroke="#ed2c61"/><path d="M503 187.5h3" stroke="#ee2c5d"/><path d="M506 187.5h3" stroke="#ee2c59"/><path d="M509 187.5h3" stroke="#ee2c56"/><path d="M512 187.5h3" stroke="#ee2b53"/><path d="M404 190.5h3" stroke="#1883c9"/><path d="M407 190.5h3" stroke="#1a80c7"/><path d="M410 190.5h3" stroke="#1c7cc4"/><path d="M413 190.5h3" stroke="#1d79c2"/><path d="M416 190.5h3" stroke="#1e76c0"/><path d="M419 190.5h3" stroke="#1f72bd"/><path d="M422 190.5h3" stroke="#2571bb"/><path d="M425 190.5h3" stroke="#2d72bb"/><path d="M428 190.5h3" stroke="#3572ba"/><path d="M431 190.5h3" stroke="#3c71b8"/><path d="M434 190.5h3" stroke="#466eb5"/><path d="M437 190.5h3" stroke="#506bb2"/><path d="M440 190.5h3" stroke="#5864ae"/><path d="M443 190.5h3" stroke="#5e5ca9"/><path d="M446 190.5h3" stroke="#7757aa"/><path d="M449 190.5h3" stroke="#9752ac"/><path d="M452 190.5h3" stroke="#a851ad"/><path d="M455 190.5h3" stroke="#b751ae"/><path d="M458 190.5h3" stroke="#c651ae"/><path d="M461 190.5h3" stroke="#d550ae"/><path d="M464 190.5h3" stroke="#db4fac"/><path d="M467 190.5h3" stroke="#de4ea8"/><path d="M470 190.5h3" stroke="#e24da4"/><path d="M473 190.5h3" stroke="#e64ba0"/><path d="M476 190.5h3" stroke="#e9479b"/><path d="M479 190.5h3" stroke="#ea4494"/><path d="M482 190.5h3" stroke="#eb3f8d"/><path d="M485 190.5h3" stroke="#eb3a85"/><path d="M488 190.5h3" stroke="#ec357d"/><path d="M491 190.5h3" stroke="#ec2f75"/><path d="M494 190.5h3" stroke="#ec2c6e"/><path d="M497 190.5h3" stroke="#ed2c69"/><path d="M500 190.5h3" stroke="#ed2c65"/><path d="M503 190.5h3" stroke="#ed2c61"/><path d="M404 193.5h3" stroke="#1b7ec5"/><path d="M407 193.5h3" stroke="#1c7bc3"/><path d="M410 193.5h3" stroke="#1d78c1"/><path d="M413 193.5h3" stroke="#1e75bf"/><path d="M416 193.5h3" stroke="#1f71bc"/><path d="M419 193.5h3" stroke="#216dba"/><path d="M422 193.5h3" stroke="#2269b7"/><path d="M425 193.5h3" stroke="#2365b4"/><path d="M428 193.5h3" stroke="#2560b0"/><path d="M431 193.5h3" stroke="#305ead"/><path d="M434 193.5h3" stroke="#3a5baa"/><path d="M437 193.5h3" stroke="#4356a6"/><path d="M440 193.5h3" stroke="#4a4ea1"/><path d="M443 193.5h3" stroke="#5b48a0"/><path d="M446 193.5h3" stroke="#7a43a2"/><path d="M449 193.5h3" stroke="#953fa4"/><path d="M452 193.5h3" stroke="#a440a5"/><path d="M455 193.5h3" stroke="#b440a6"/><path d="M458 193.5h3" stroke="#c33fa6"/><path d="M461 193.5h3" stroke="#d33ea7"/><path d="M464 193.5h3" stroke="#d73ea3"/><path d="M467 193.5h3" stroke="#db3ea0"/><path d="M470 193.5h3" stroke="#df3c9c"/><path d="M473 193.5h3" stroke="#e33a98"/><path d="M476 193.5h3" stroke="#e63893"/><path d="M479 193.5h3" stroke="#e8348d"/><path d="M482 193.5h3" stroke="#e93086"/><path d="M485 193.5h3" stroke="#e92c7e"/><path d="M488 193.5h3" stroke="#eb2c7a"/><path d="M491 193.5h3" stroke="#ec2c76"/><path d="M494 193.5h3" stroke="#ec2c71"/><path d="M497 193.5h3" stroke="#ed2c6d"/><path d="M407 196.5h3" stroke="#1e77c0"/><path d="M410 196.5h3" stroke="#1f74be"/><path d="M413 196.5h3" stroke="#2070bc"/><path d="M416 196.5h3" stroke="#216db9"/><path d="M419 196.5h3" stroke="#2269b6"/><path d="M422 196.5h3" stroke="#2365b4"/><path d="M425 196.5h3" stroke="#2561b0"/><path d="M428 196.5h3" stroke="#2859ab"/><path d="M431 196.5h3" stroke="#2b51a5"/><path d="M434 196.5h3" stroke="#2f489f"/><path d="M437 196.5h3" stroke="#363f9a"/><path d="M440 196.5h3" stroke="#3e3796"/><path d="M443 196.5h3" stroke="#5f3699"/><path d="M446 196.5h3" stroke="#84389f"/><path d="M449 196.5h3" stroke="#9737a0"/><path d="M452 196.5h3" stroke="#a535a0"/><path d="M455 196.5h3" stroke="#b333a0"/><path d="M458 196.5h3" stroke="#c232a0"/><path d="M461 196.5h3" stroke="#d030a0"/><path d="M464 196.5h3" stroke="#d42f9c"/><path d="M467 196.5h3" stroke="#d82e98"/><path d="M470 196.5h3" stroke="#dc2e95"/><path d="M473 196.5h3" stroke="#e02d91"/><path d="M476 196.5h3" stroke="#e42c8e"/><path d="M479 196.5h3" stroke="#e72c8a"/><path d="M482 196.5h3" stroke="#e82c85"/><path d="M485 196.5h3" stroke="#e92c81"/><path d="M488 196.5h3" stroke="#ea2c7c"/><path d="M407 199.5h3" stroke="#1f73bd"/><path d="M410 199.5h3" stroke="#2070bb"/><path d="M413 199.5h3" stroke="#216cb9"/><path d="M416 199.5h3" stroke="#2269b6"/><path d="M419 199.5h3" stroke="#2365b4"/><path d="M422 199.5h3" stroke="#2561b1"/><path d="M425 199.5h3" stroke="#275aac"/><path d="M428 199.5h3" stroke="#2b52a6"/><path d="M431 199.5h3" stroke="#2e4aa0"/><path d="M434 199.5h3" stroke="#33419b"/><path d="M437 199.5h3" stroke="#383896"/><path d="M440 199.5h3" stroke="#4f3697"/><path d="M443 199.5h3" stroke="#71379c"/><path d="M446 199.5h3" stroke="#8f38a0"/><path d="M449 199.5h3" stroke="#9c36a0"/><path d="M452 199.5h3" stroke="#a935a0"/><path d="M455 199.5h3" stroke="#b733a0"/><path d="M458 199.5h3" stroke="#c531a0"/><path d="M461 199.5h3" stroke="#d1309f"/><path d="M464 199.5h3" stroke="#d52f9c"/><path d="M467 199.5h3" stroke="#d82f99"/><path d="M470 199.5h3" stroke="#dc2e95"/><path d="M473 199.5h3" stroke="#e02d92"/><path d="M476 199.5h3" stroke="#e32d8f"/><path d="M479 199.5h3" stroke="#e62c8b"/><path d="M482 199.5h3" stroke="#e72c87"/><path d="M410 202.5h3" stroke="#216cb9"/><path d="M413 202.5h3" stroke="#2269b6"/><path d="M416 202.5h3" stroke="#2365b4"/><path d="M419 202.5h3" stroke="#2561b1"/><path d="M422 202.5h3" stroke="#275bac"/><path d="M425 202.5h3" stroke="#2a54a7"/><path d="M428 202.5h3" stroke="#2d4ca1"/><path d="M431 202.5h3" stroke="#31449d"/><path d="M434 202.5h3" stroke="#363c98"/><path d="M437 202.5h3" stroke="#413595"/><path d="M440 202.5h3" stroke="#61369a"/><path d="M443 202.5h3" stroke="#81389e"/><path d="M446 202.5h3" stroke="#9437a0"/><path d="M449 202.5h3" stroke="#a036a0"/><path d="M452 202.5h3" stroke="#ad34a0"/><path d="M455 202.5h3" stroke="#ba33a0"/><path d="M458 202.5h3" stroke="#c731a0"/><path d="M461 202.5h3" stroke="#d1309f"/><path d="M464 202.5h3" stroke="#d52f9c"/><path d="M467 202.5h3" stroke="#d82f99"/><path d="M470 202.5h3" stroke="#dc2e95"/><path d="M473 202.5h3" stroke="#df2d92"/><path d="M410 205.5h3" stroke="#2268b6"/><path d="M413 205.5h3" stroke="#2365b3"/><path d="M416 205.5h3" stroke="#2561b1"/><path d="M419 205.5h3" stroke="#275cad"/><path d="M422 205.5h3" stroke="#2a55a8"/><path d="M425 205.5h3" stroke="#2d4ea3"/><path d="M428 205.5h3" stroke="#30469e"/><path d="M431 205.5h3" stroke="#353e99"/><path d="M434 205.5h3" stroke="#393695"/><path d="M437 205.5h3" stroke="#523698"/><path d="M440 205.5h3" stroke="#71379c"/><path d="M443 205.5h3" stroke="#8d38a0"/><path d="M446 205.5h3" stroke="#9937a0"/><path d="M449 205.5h3" stroke="#a435a0"/><path d="M452 205.5h3" stroke="#b034a0"/><path d="M455 205.5h3" stroke="#bd32a0"/><path d="M458 205.5h3" stroke="#c931a0"/><path d="M461 205.5h3" stroke="#d2309f"/><path d="M464 205.5h3" stroke="#d52f9c"/><path d="M467 205.5h3" stroke="#d82f99"/><path d="M413 208.5h3" stroke="#2561b1"/><path d="M416 208.5h3" stroke="#265cad"/><path d="M419 208.5h3" stroke="#2956a9"/><path d="M422 208.5h3" stroke="#2c4fa4"/><path d="M425 208.5h3" stroke="#2f489f"/><path d="M428 208.5h3" stroke="#33419b"/><path d="M431 208.5h3" stroke="#383996"/><path d="M434 208.5h3" stroke="#463596"/><path d="M437 208.5h3" stroke="#62369a"/><path d="M440 208.5h3" stroke="#7f389e"/><path d="M443 208.5h3" stroke="#9237a0"/><path d="M446 208.5h3" stroke="#9d36a0"/><path d="M449 208.5h3" stroke="#a835a0"/><path d="M452 208.5h3" stroke="#b333a0"/><path d="M455 208.5h3" stroke="#bf32a0"/><path d="M458 208.5h3" stroke="#cb31a0"/><path d="M413 211.5h3" stroke="#265dae"/><path d="M416 211.5h3" stroke="#2957a9"/><path d="M419 211.5h3" stroke="#2b51a5"/><path d="M422 211.5h3" stroke="#2e4aa0"/><path d="M425 211.5h3" stroke="#32439c"/><path d="M428 211.5h3" stroke="#363c98"/><path d="M431 211.5h3" stroke="#3b3594"/><path d="M434 211.5h3" stroke="#553698"/><path d="M437 211.5h3" stroke="#70379c"/><path d="M440 211.5h3" stroke="#8c38a0"/><path d="M443 211.5h3" stroke="#9637a0"/><path d="M446 211.5h3" stroke="#a136a0"/><path d="M449 211.5h3" stroke="#ab34a0"/><path d="M452 211.5h3" stroke="#b633a0"/><path d="M416 214.5h3" stroke="#2b52a6"/><path d="M419 214.5h3" stroke="#2d4ba1"/><path d="M422 214.5h3" stroke="#31459d"/><path d="M425 214.5h3" stroke="#353e99"/><path d="M428 214.5h3" stroke="#393795"/><path d="M431 214.5h3" stroke="#4a3696"/><path d="M434 214.5h3" stroke="#63379a"/><path d="M437 214.5h3" stroke="#7d379e"/><path d="M440 214.5h3" stroke="#9037a0"/><path d="M443 214.5h3" stroke="#9a36a0"/><path d="M419 217.5h3" stroke="#30479e"/><path d="M422 217.5h3" stroke="#33419b"/><path d="M425 217.5h3" stroke="#373a97"/><path d="M428 217.5h3" stroke="#403595"/><path d="M431 217.5h3" stroke="#573698"/><path d="M434 217.5h3" stroke="#70379c"/><path d="M437 217.5h3" stroke="#8a38a0"/><path d="M425 220.5h3" stroke="#393695"/><path d="M428 220.5h3" stroke="#4d3697"/>
</g></g>
<g filter="url(#b3)"><path d="M397.2 59.2Q416 72 431.7 90.7T455.6 143.7M389 116Q408 123.5 425.6 132.4T446.4 145.8M402.3 171.7Q420 165 440.3 157M409.4 193Q424 184 438.9 172M426.7 216.4Q431 202 442.4 179.3M432.5 214.8Q438 198 447 178M463.7 167.1L462.7 201.5M487.8 192.4Q484 180 474.9 167.1M463.7 167.1Q481 162 495.3 154.9M470.6 94.2L467.2 137.6M490.2 110.9Q487 126 481 140.7M497.5 117Q492 128 487.5 136M505 123.5Q500 131 494 136.5M513 132Q506 137 499.5 141M523 141.5Q512 145 503 148.5M513.5 182Q507 172 500.5 162.5M503 148.5Q508 156 500.5 162.5Q494 168 484 171M481 140.7Q490 139 499.5 141" fill="none" stroke="#222" stroke-opacity="0.5" stroke-width="0.7"/>
<ellipse cx="468.3" cy="152.9" rx="36" ry="13.5" transform="rotate(-30.5 468.3 152.9)" fill="none" stroke="#333" stroke-opacity="0.6" stroke-width="0.7"/>
<path d="M499.5 134.5Q512 138 511.5 148Q510 162 494 171Q478 180 462 175" fill="none" stroke="#333" stroke-opacity="0.5" stroke-width="0.7"/>
<path d="M441.5 170.5L459.5 156.5M443 172.5L461 158.5" stroke="#333" stroke-opacity="0.6" stroke-width="0.5" fill="none"/>
<path d="M459 151.5Q470 147.5 480 145.5Q492 141 498 135" stroke="#444" stroke-opacity="0.55" stroke-width="0.6" fill="none"/>
</g>
<circle cx="415.5" cy="68.8" r="1.7" fill="#f4ffe6" filter="url(#b4)"/>
<circle cx="403.3" cy="79.6" r="1.7" fill="#f4ffe6" filter="url(#b4)"/>
<circle cx="398.6" cy="94.2" r="1.7" fill="#f4ffe6" filter="url(#b4)"/>
<circle cx="396.6" cy="109.4" r="1.7" fill="#f4ffe6" filter="url(#b4)"/>
<circle cx="396.2" cy="126.3" r="1.7" fill="#f4ffe6" filter="url(#b4)"/>
<circle cx="433.4" cy="70.4" r="1.7" fill="#f4ffe6" filter="url(#b4)"/>
<circle cx="500.4" cy="132.9" r="1.7" fill="#f4ffe6" filter="url(#b4)"/>
<circle cx="500.4" cy="132.9" r="3.4" fill="#fffbd8" fill-opacity="0.8" filter="url(#b2)"/>
<g font-family="Liberation Sans,sans-serif" fill="#222" filter="url(#b3)"><text x="405.7" y="51.6" font-size="3.3" fill-opacity="0.90" text-anchor="middle" font-weight="bold">520</text><text x="430.5" y="57.6" font-size="3.3" fill-opacity="0.90" text-anchor="middle" font-weight="bold">530</text><text x="447.5" y="67.6" font-size="3.3" fill-opacity="0.90" text-anchor="middle" font-weight="bold">540</text><text x="464.4" y="80.6" font-size="3.3" fill-opacity="0.90" text-anchor="middle" font-weight="bold">550</text><text x="479.9" y="94.2" font-size="3.3" fill-opacity="0.90" text-anchor="middle" font-weight="bold">560</text><text x="495.2" y="107.5" font-size="3.3" fill-opacity="0.90" text-anchor="middle" font-weight="bold">570</text><text x="511.0" y="121.4" font-size="3.3" fill-opacity="0.90" text-anchor="middle" font-weight="bold">580</text><text x="523.7" y="132.0" font-size="3.3" fill-opacity="0.90" text-anchor="middle" font-weight="bold">590</text><text x="536.6" y="143.4" font-size="3.3" fill-opacity="0.90" text-anchor="middle" font-weight="bold">600</text><text x="545.4" y="151.2" font-size="3.3" fill-opacity="0.90" text-anchor="middle" font-weight="bold">610</text><text x="550.5" y="156.6" font-size="3.3" fill-opacity="0.90" text-anchor="middle" font-weight="bold">620</text><text x="386.5" y="71.8" font-size="3.3" fill-opacity="0.90" text-anchor="middle" font-weight="bold">510</text><text x="385.0" y="114.5" font-size="3.3" fill-opacity="0.90" text-anchor="middle" font-weight="bold">500</text><text x="393.0" y="163.4" font-size="3.3" fill-opacity="0.90" text-anchor="middle" font-weight="bold">490</text><text x="404.0" y="194.6" font-size="3.3" fill-opacity="0.90" text-anchor="middle" font-weight="bold">480</text><text x="411.6" y="209.6" font-size="3.3" fill-opacity="0.90" text-anchor="middle" font-weight="bold">470</text><text x="424.0" y="221.0" font-size="3.3" fill-opacity="0.90" text-anchor="middle" font-weight="bold">460</text><text x="432.5" y="223.0" font-size="3.3" fill-opacity="0.90" text-anchor="middle" font-weight="bold">380</text><text x="557.0" y="164.0" font-size="3.3" fill-opacity="0.90" text-anchor="middle" font-weight="bold">700</text><text x="424.0" y="116.0" font-size="2.9" fill-opacity="0.55" text-anchor="middle">Green</text><text x="454.0" y="113.0" font-size="2.9" fill-opacity="0.55" text-anchor="middle">Yellowish</text><text x="454.0" y="116.5" font-size="2.9" fill-opacity="0.55" text-anchor="middle">Green</text><text x="476.8" y="114.0" font-size="2.9" fill-opacity="0.55" text-anchor="middle">Yellow</text><text x="476.8" y="117.5" font-size="2.9" fill-opacity="0.55" text-anchor="middle">Green</text><text x="418.0" y="141.5" font-size="2.9" fill-opacity="0.55" text-anchor="middle">Bluish</text><text x="418.0" y="145.0" font-size="2.9" fill-opacity="0.55" text-anchor="middle">Green</text><text x="422.5" y="165.0" font-size="2.9" fill-opacity="0.55" text-anchor="middle">Blue Green</text><text x="426.5" y="184.0" font-size="2.9" fill-opacity="0.55" text-anchor="middle">Greenish</text><text x="426.5" y="187.5" font-size="2.9" fill-opacity="0.55" text-anchor="middle">Blue</text><text x="437.5" y="200.0" font-size="2.9" fill-opacity="0.55" text-anchor="middle">Blue</text><text x="447.0" y="192.0" font-size="2.9" fill-opacity="0.55" text-anchor="middle">Purplish</text><text x="447.0" y="195.5" font-size="2.9" fill-opacity="0.55" text-anchor="middle">Blue</text><text x="452.0" y="188.0" font-size="2.9" fill-opacity="0.55" text-anchor="middle">Purple</text><text x="476.0" y="184.0" font-size="2.9" fill-opacity="0.55" text-anchor="middle">Reddish</text><text x="476.0" y="187.5" font-size="2.9" fill-opacity="0.55" text-anchor="middle">Purple</text><text x="478.0" y="166.5" font-size="2.9" fill-opacity="0.55" text-anchor="middle">Purplish</text><text x="478.0" y="170.0" font-size="2.9" fill-opacity="0.55" text-anchor="middle">Pink</text><text x="500.0" y="176.0" font-size="2.9" fill-opacity="0.55" text-anchor="middle">Purplish Red</text><text x="513.0" y="162.0" font-size="2.9" fill-opacity="0.55" text-anchor="middle">Red</text><text x="501.5" y="157.0" font-size="2.9" fill-opacity="0.55" text-anchor="middle">Pink</text><text x="494.0" y="128.5" font-size="2.9" fill-opacity="0.55" text-anchor="middle">Yellow</text><text x="487.0" y="122.0" font-size="2.9" fill-opacity="0.55" text-anchor="middle">Greenish</text><text x="487.0" y="125.5" font-size="2.9" fill-opacity="0.55" text-anchor="middle">Yellow</text><text x="499.5" y="133.0" font-size="2.9" fill-opacity="0.55" text-anchor="middle">Orange</text><text x="507.0" y="140.5" font-size="2.9" fill-opacity="0.55" text-anchor="middle">Reddish</text><text x="507.0" y="144.0" font-size="2.9" fill-opacity="0.55" text-anchor="middle">Orange</text><text x="451.0" y="148.6" font-size="2.9" fill-opacity="0.55" text-anchor="middle">Illuminant</text><text x="462.0" y="161.8" font-size="2.9" fill-opacity="0.55" text-anchor="middle">EQUAL ENERGY</text><text x="416.5" y="60.8" font-size="2.9" fill-opacity="0.55" text-anchor="middle">TVGD</text><text x="389.2" y="40.6" font-size="3.4" fill-opacity="0.90" text-anchor="middle" font-weight="bold">.0</text><text x="389.2" y="232.3" font-size="3.4" fill-opacity="0.90" text-anchor="middle" font-weight="bold">.0</text><text x="411.6" y="40.6" font-size="3.4" fill-opacity="0.90" text-anchor="middle" font-weight="bold">.1</text><text x="411.6" y="232.3" font-size="3.4" fill-opacity="0.90" text-anchor="middle" font-weight="bold">.1</text><text x="434.1" y="40.6" font-size="3.4" fill-opacity="0.90" text-anchor="middle" font-weight="bold">.2</text><text x="434.1" y="232.3" font-size="3.4" fill-opacity="0.90" text-anchor="middle" font-weight="bold">.2</text><text x="456.5" y="40.6" font-size="3.4" fill-opacity="0.90" text-anchor="middle" font-weight="bold">.3</text><text x="456.5" y="232.3" font-size="3.4" fill-opacity="0.90" text-anchor="middle" font-weight="bold">.3</text><text x="479.0" y="40.6" font-size="3.4" fill-opacity="0.90" text-anchor="middle" font-weight="bold">.4</text><text x="479.0" y="232.3" font-size="3.4" fill-opacity="0.90" text-anchor="middle" font-weight="bold">.4</text><text x="501.4" y="40.6" font-size="3.4" fill-opacity="0.90" text-anchor="middle" font-weight="bold">.5</text><text x="501.4" y="232.3" font-size="3.4" fill-opacity="0.90" text-anchor="middle" font-weight="bold">.5</text><text x="523.9" y="40.6" font-size="3.4" fill-opacity="0.90" text-anchor="middle" font-weight="bold">.6</text><text x="523.9" y="232.3" font-size="3.4" fill-opacity="0.90" text-anchor="middle" font-weight="bold">.6</text><text x="546.3" y="40.6" font-size="3.4" fill-opacity="0.90" text-anchor="middle" font-weight="bold">.7</text><text x="546.3" y="232.3" font-size="3.4" fill-opacity="0.90" text-anchor="middle" font-weight="bold">.7</text><text x="568.8" y="40.6" font-size="3.4" fill-opacity="0.90" text-anchor="middle" font-weight="bold">.8</text><text x="568.8" y="232.3" font-size="3.4" fill-opacity="0.90" text-anchor="middle" font-weight="bold">.8</text><text x="378.4" y="218.4" font-size="3.4" fill-opacity="0.90" text-anchor="middle" font-weight="bold">.0</text><text x="572.6" y="218.4" font-size="3.4" fill-opacity="0.90" text-anchor="middle" font-weight="bold">.0</text><text x="378.4" y="199.0" font-size="3.4" fill-opacity="0.90" text-anchor="middle" font-weight="bold">.1</text><text x="572.6" y="199.0" font-size="3.4" fill-opacity="0.90" text-anchor="middle" font-weight="bold">.1</text><text x="378.4" y="179.7" font-size="3.4" fill-opacity="0.90" text-anchor="middle" font-weight="bold">.2</text><text x="572.6" y="179.7" font-size="3.4" fill-opacity="0.90" text-anchor="middle" font-weight="bold">.2</text><text x="378.4" y="160.3" font-size="3.4" fill-opacity="0.90" text-anchor="middle" font-weight="bold">.3</text><text x="572.6" y="160.3" font-size="3.4" fill-opacity="0.90" text-anchor="middle" font-weight="bold">.3</text><text x="378.4" y="140.9" font-size="3.4" fill-opacity="0.90" text-anchor="middle" font-weight="bold">.4</text><text x="572.6" y="140.9" font-size="3.4" fill-opacity="0.90" text-anchor="middle" font-weight="bold">.4</text><text x="378.4" y="121.5" font-size="3.4" fill-opacity="0.90" text-anchor="middle" font-weight="bold">.5</text><text x="572.6" y="121.5" font-size="3.4" fill-opacity="0.90" text-anchor="middle" font-weight="bold">.5</text><text x="378.4" y="102.2" font-size="3.4" fill-opacity="0.90" text-anchor="middle" font-weight="bold">.6</text><text x="572.6" y="102.2" font-size="3.4" fill-opacity="0.90" text-anchor="middle" font-weight="bold">.6</text><text x="378.4" y="82.8" font-size="3.4" fill-opacity="0.90" text-anchor="middle" font-weight="bold">.7</text><text x="572.6" y="82.8" font-size="3.4" fill-opacity="0.90" text-anchor="middle" font-weight="bold">.7</text><text x="378.4" y="63.4" font-size="3.4" fill-opacity="0.90" text-anchor="middle" font-weight="bold">.8</text><text x="572.6" y="63.4" font-size="3.4" fill-opacity="0.90" text-anchor="middle" font-weight="bold">.8</text><text x="378.4" y="44.1" font-size="3.4" fill-opacity="0.90" text-anchor="middle" font-weight="bold">.9</text><text x="572.6" y="44.1" font-size="3.4" fill-opacity="0.90" text-anchor="middle" font-weight="bold">.9</text><text x="526.4" y="88.9" font-size="3.1" font-weight="bold" textLength="14.2" lengthAdjust="spacingAndGlyphs">Source A</text><text x="541.8" y="88.9" font-size="3.1" textLength="15" lengthAdjust="spacingAndGlyphs">x=0.4476</text><text x="543" y="91.9" font-size="3.1" textLength="13.8" lengthAdjust="spacingAndGlyphs">y=0.4074</text><text x="526.4" y="95.0" font-size="3.1" font-weight="bold" textLength="14.2" lengthAdjust="spacingAndGlyphs">Source B</text><text x="541.8" y="95.0" font-size="3.1" textLength="15" lengthAdjust="spacingAndGlyphs">x=0.3484</text><text x="543" y="98.0" font-size="3.1" textLength="13.8" lengthAdjust="spacingAndGlyphs">y=0.3516</text><text x="526.4" y="101.0" font-size="3.1" font-weight="bold" textLength="14.2" lengthAdjust="spacingAndGlyphs">Source C</text><text x="541.8" y="101.0" font-size="3.1" textLength="15" lengthAdjust="spacingAndGlyphs">x=0.3101</text><text x="543" y="104.0" font-size="3.1" textLength="13.8" lengthAdjust="spacingAndGlyphs">y=0.3162</text><text x="526.4" y="107.1" font-size="3.1" font-weight="bold" textLength="14.2" lengthAdjust="spacingAndGlyphs">Source D</text><text x="541.8" y="107.1" font-size="3.1" textLength="15" lengthAdjust="spacingAndGlyphs">x=0.3127</text><text x="543" y="110.1" font-size="3.1" textLength="13.8" lengthAdjust="spacingAndGlyphs">y=0.3290</text><text x="526.4" y="113.1" font-size="3.1" font-weight="bold" textLength="14.2" lengthAdjust="spacingAndGlyphs">Source E</text><text x="541.8" y="113.1" font-size="3.1" textLength="15" lengthAdjust="spacingAndGlyphs">x=0.3333</text><text x="543" y="116.1" font-size="3.1" textLength="13.8" lengthAdjust="spacingAndGlyphs">y=0.3333</text><text x="476.0" y="208.8" font-size="3.1" fill-opacity="0.60" text-anchor="start">COLOR TEMPERATURE IN KELVIN</text><text x="534.0" y="182.8" font-size="2.5" fill-opacity="0.60" text-anchor="middle">DAYLIGHT SOURCES</text><text x="537.0" y="186.2" font-size="2.5" fill-opacity="0.60" text-anchor="middle">MACADAM</text><text x="397.5" y="212.2" font-size="3.3" fill-opacity="0.75" text-anchor="middle">Purplish</text><text x="397.5" y="215.8" font-size="3.3" fill-opacity="0.75" text-anchor="middle">Blue</text></g>
<path d="M443.0 214.6v3.6M447.5 214.6v3.6M452.5 214.6v3.6M460.5 214.6v3.6M468.5 214.6v3.6M480.5 214.6v3.6M491.0 214.6v3.6M500.0 214.6v3.6M510.0 214.6v3.6M521.0 214.6v3.6M536.0 214.6v3.6" stroke="#333" stroke-opacity="0.7" stroke-width="0.6"/>
<path d="M443.0 219v4.6" stroke="#555" stroke-opacity="0.5" stroke-width="1.5" stroke-dasharray="0.6 0.5"/>
<path d="M447.5 219v4.6" stroke="#555" stroke-opacity="0.5" stroke-width="1.5" stroke-dasharray="0.6 0.5"/>
<path d="M452.5 219v4.6" stroke="#555" stroke-opacity="0.5" stroke-width="1.5" stroke-dasharray="0.6 0.5"/>
<path d="M460.5 219v4.6" stroke="#555" stroke-opacity="0.5" stroke-width="1.5" stroke-dasharray="0.6 0.5"/>
<path d="M468.5 219v4.6" stroke="#555" stroke-opacity="0.5" stroke-width="1.5" stroke-dasharray="0.6 0.5"/>
<path d="M480.5 219v4.6" stroke="#555" stroke-opacity="0.5" stroke-width="1.5" stroke-dasharray="0.6 0.5"/>
<path d="M491.0 219v4.6" stroke="#555" stroke-opacity="0.5" stroke-width="1.5" stroke-dasharray="0.6 0.5"/>
<path d="M500.0 219v4.6" stroke="#555" stroke-opacity="0.5" stroke-width="1.5" stroke-dasharray="0.6 0.5"/>
<path d="M510.0 219v4.6" stroke="#555" stroke-opacity="0.5" stroke-width="1.5" stroke-dasharray="0.6 0.5"/>
<path d="M521.0 219v4.6" stroke="#555" stroke-opacity="0.5" stroke-width="1.5" stroke-dasharray="0.6 0.5"/>
<path d="M536.0 219v4.6" stroke="#555" stroke-opacity="0.5" stroke-width="1.5" stroke-dasharray="0.6 0.5"/>
<path d="M551 161q5 2 4.5 8q-1 8 -8 10h-22" fill="none" stroke="#555" stroke-opacity="0.6" stroke-width="0.5"/>
</g>
</defs>
<rect width="600" height="492" fill="#fff"/>
<g>
<text x="10.2" y="16.2" class="h" textLength="72.3" lengthAdjust="spacingAndGlyphs">Spectrum</text>
<text x="92.50" y="15.8" class="r" textLength="95.50" lengthAdjust="spacingAndGlyphs">GL-FL35-NL-CW</text>
<text x="191.90" y="15.8" class="r" textLength="43.80" lengthAdjust="spacingAndGlyphs">(SEOUL</text>
<text x="239.20" y="15.8" class="r" textLength="43.20" lengthAdjust="spacingAndGlyphs">SunLike</text>
<text x="286.50" y="15.8" class="r" textLength="29.20" lengthAdjust="spacingAndGlyphs">CoB)</text>
<text x="319.20" y="15.8" class="r" textLength="36.80" lengthAdjust="spacingAndGlyphs">CRI:97</text>
<path d="M32.8 214.3C33.7 214.3 36.3 214.4 38.0 214.3C39.7 214.2 41.5 214.4 42.8 214.0C44.1 213.6 45.1 212.7 46.0 211.8C46.9 210.9 47.3 210.7 48.3 208.6C49.3 206.5 50.9 203.2 52.0 199.5C53.1 195.8 53.8 192.8 54.7 186.7C55.6 180.6 56.6 170.0 57.4 163.0C58.1 156.0 58.6 149.7 59.2 144.6C59.8 139.5 60.3 135.3 60.8 132.5C61.3 129.7 61.7 128.3 62.3 128.0C62.9 127.7 63.6 129.7 64.2 130.5C64.8 131.3 65.4 133.2 66.1 133.0C66.8 132.8 67.4 131.6 68.5 129.5C69.6 127.4 71.6 124.6 72.9 120.3C74.2 116.0 75.5 108.8 76.6 103.9C77.7 99.0 78.2 95.0 79.3 91.0C80.4 87.0 81.8 82.2 83.0 80.0C84.2 77.8 85.2 77.2 86.6 77.7C88.0 78.2 89.8 80.7 91.2 82.9C92.6 85.1 93.4 87.8 94.8 91.0C96.2 94.2 97.9 98.8 99.4 102.0C100.9 105.2 102.6 108.3 104.0 110.3C105.4 112.3 106.3 113.2 107.6 114.0C108.9 114.8 110.2 115.1 111.7 114.8C113.2 114.5 115.0 114.0 116.8 112.0C118.6 110.0 120.5 106.5 122.3 103.0C124.1 99.5 126.0 94.7 127.8 91.0C129.6 87.3 131.5 83.9 133.2 81.0C134.9 78.1 136.5 75.3 138.0 73.5C139.5 71.7 140.3 71.0 142.0 70.2C143.7 69.4 146.0 68.7 148.0 68.6C150.0 68.5 152.0 68.8 154.0 69.4C156.0 70.0 157.3 70.6 160.0 72.0C162.7 73.4 166.7 76.0 170.0 77.6C173.3 79.2 177.0 80.6 180.0 81.4C183.0 82.2 185.3 82.7 188.0 82.6C190.7 82.5 193.0 82.1 196.0 81.0C199.0 79.9 203.0 77.4 206.0 76.0C209.0 74.6 211.5 73.3 214.0 72.4C216.5 71.5 218.7 70.9 221.0 70.8C223.3 70.7 225.8 71.1 228.0 71.8C230.2 72.5 232.0 73.4 234.0 75.0C236.0 76.6 237.6 78.2 240.0 81.4C242.4 84.6 245.7 89.0 248.5 94.2C251.3 99.4 254.2 106.3 257.0 112.7C259.9 119.1 262.6 126.3 265.6 132.6C268.7 138.9 272.2 144.9 275.3 150.3C278.4 155.7 281.1 160.4 284.0 164.8C286.9 169.2 289.7 173.0 292.5 176.6C295.3 180.2 297.7 182.8 301.0 186.2C304.3 189.6 308.2 193.9 312.5 197.0C316.8 200.1 322.5 202.7 327.0 204.8C331.5 206.9 335.4 208.3 339.5 209.4C343.6 210.5 349.3 211.1 351.3 211.4L351.3 216.4 L32.8 216.4 Z" fill="url(#spec)"/>
<path d="M32.6 38.8V217 M31.9 216.4H352" stroke="#000" stroke-width="1.4" fill="none"/>
<path d="M30.2 216.45H33" stroke="#000" stroke-width="1.3"/>
<text x="16.3" y="219.05" class="m7">0.0</text>
<path d="M30.2 186.95H33" stroke="#000" stroke-width="1.3"/>
<text x="16.3" y="189.55" class="m7">0.2</text>
<path d="M30.2 157.45H33" stroke="#000" stroke-width="1.3"/>
<text x="16.3" y="160.05" class="m7">0.4</text>
<path d="M30.2 127.95H33" stroke="#000" stroke-width="1.3"/>
<text x="16.3" y="130.55" class="m7">0.6</text>
<path d="M30.2 98.45H33" stroke="#000" stroke-width="1.3"/>
<text x="16.3" y="101.05" class="m7">0.8</text>
<path d="M30.2 68.95H33" stroke="#000" stroke-width="1.3"/>
<text x="16.3" y="71.55" class="m7">1.0</text>
<path d="M30.2 39.45H33" stroke="#000" stroke-width="1.3"/>
<text x="16.3" y="42.05" class="m7">1.2</text>
<path d="M32.50 216V219" stroke="#000" stroke-width="1"/>
<text x="32.50" y="225.2" class="s8" text-anchor="middle">380</text>
<path d="M112.20 216V219" stroke="#000" stroke-width="1"/>
<text x="112.20" y="225.2" class="s8" text-anchor="middle">480</text>
<path d="M191.90 216V219" stroke="#000" stroke-width="1"/>
<text x="191.90" y="225.2" class="s8" text-anchor="middle">580</text>
<path d="M271.60 216V219" stroke="#000" stroke-width="1"/>
<text x="271.60" y="225.2" class="s8" text-anchor="middle">680</text>
<path d="M351.30 216V219" stroke="#000" stroke-width="1"/>
<text x="351.30" y="225.2" class="s8" text-anchor="middle">780</text>
<text x="10.6" y="33.6" class="m7" style="font-size:7.2px">Spectrum</text>
<text x="160.6" y="232.4" class="m73">Wavelength(nm)</text>
<text x="271.8" y="35.2" class="m73">1.0 = 4.422e+001mW/nm</text>
<use href="#chart"/>
<text x="365" y="32.4" class="cb" xml:space="preserve">CIE1931  EVERFINE</text>
<text x="462.4" y="41.3" class="cb cl" xml:space="preserve">x = 0.3467 y = 0.3580</text>
<text x="507.6" y="57.5" class="cb cl" xml:space="preserve">CCT = 4962K</text>
<path d="M458.7 148.4h15.4 M466.4 140.4v16" stroke="#000" stroke-width="1.35" fill="none"/>
<rect x="10.3" y="23.6" width="581.4" height="213.2" fill="none" stroke="#000" stroke-width="1.4"/>
<path d="M364.6 23.6V236.8" stroke="#000" stroke-width="1.4"/>
</g>
<g transform="translate(0,246)">
<text x="10.2" y="16.2" class="h" textLength="72.3" lengthAdjust="spacingAndGlyphs">Spectrum</text>
<text x="92.50" y="15.8" class="r" textLength="74.70" lengthAdjust="spacingAndGlyphs">GL-FL35-CW</text>
<text x="170.20" y="15.8" class="r" textLength="64.50" lengthAdjust="spacingAndGlyphs">(LUMILEDS</text>
<text x="238.50" y="15.8" class="r" textLength="42.20" lengthAdjust="spacingAndGlyphs">Luxeon</text>
<text x="284.90" y="15.8" class="r" textLength="28.50" lengthAdjust="spacingAndGlyphs">CoB)</text>
<text x="317.50" y="15.8" class="r" textLength="35.50" lengthAdjust="spacingAndGlyphs">CRI:80</text>
<path d="M32.8 215.5C34.8 215.5 41.8 215.5 45.0 215.4C48.2 215.3 49.8 215.3 52.0 215.0C54.2 214.7 56.3 214.5 58.3 213.5C60.3 212.5 62.0 211.4 63.8 209.0C65.6 206.6 67.7 202.7 69.2 199.0C70.7 195.3 71.7 192.3 72.9 187.0C74.1 181.7 75.5 173.1 76.6 167.0C77.7 160.9 78.5 155.5 79.3 150.5C80.1 145.5 80.7 144.1 81.4 137.0C82.2 129.9 82.9 116.7 83.8 107.8C84.7 98.9 85.8 89.5 86.6 83.4C87.3 77.4 87.8 74.0 88.3 71.5C88.8 69.0 89.0 68.6 89.4 68.6C89.8 68.6 90.0 69.0 90.5 71.5C91.0 74.0 91.6 77.4 92.3 83.4C93.0 89.5 93.7 98.9 94.7 107.8C95.7 116.7 97.6 129.9 98.5 137.0C99.4 144.1 99.4 145.5 100.3 150.5C101.2 155.5 102.8 162.4 104.0 167.0C105.2 171.6 106.4 175.1 107.6 178.0C108.8 180.9 109.9 182.7 111.3 184.3C112.7 185.9 114.4 187.2 115.9 187.4C117.4 187.6 118.7 186.9 120.4 185.2C122.1 183.5 124.5 179.4 125.9 177.0C127.3 174.6 127.1 174.2 128.7 171.0C130.2 167.8 133.0 161.8 135.2 158.0C137.4 154.2 139.5 151.0 141.7 148.3C143.9 145.6 146.0 143.5 148.2 141.8C150.4 140.1 152.2 139.3 154.7 138.0C157.2 136.7 160.1 135.5 163.3 134.2C166.6 132.9 170.6 131.5 174.2 130.3C177.8 129.1 181.9 127.8 185.0 127.2C188.1 126.6 190.1 126.5 192.6 126.6C195.1 126.7 197.5 126.7 200.2 127.7C202.9 128.7 205.9 130.2 208.8 132.4C211.7 134.6 214.2 137.1 217.5 140.7C220.8 144.2 224.7 149.2 228.3 153.7C231.9 158.2 235.9 163.4 239.2 167.8C242.5 172.2 245.2 176.6 248.0 180.0C250.8 183.4 253.3 185.7 256.0 188.0C258.7 190.3 261.3 192.1 264.0 194.0C266.7 195.9 269.3 197.7 272.0 199.2C274.7 200.7 276.7 201.7 280.0 203.2C283.3 204.7 288.0 206.7 292.0 208.0C296.0 209.3 299.3 210.3 304.0 211.2C308.7 212.1 314.7 213.0 320.0 213.6C325.3 214.2 330.8 214.5 336.0 214.8C341.2 215.1 348.8 215.5 351.3 215.6L351.3 216.4 L32.8 216.4 Z" fill="url(#spec)"/>
<path d="M32.6 38.8V217 M31.9 216.4H352" stroke="#000" stroke-width="1.4" fill="none"/>
<path d="M30.2 216.45H33" stroke="#000" stroke-width="1.3"/>
<text x="16.3" y="219.05" class="m7">0.0</text>
<path d="M30.2 186.95H33" stroke="#000" stroke-width="1.3"/>
<text x="16.3" y="189.55" class="m7">0.2</text>
<path d="M30.2 157.45H33" stroke="#000" stroke-width="1.3"/>
<text x="16.3" y="160.05" class="m7">0.4</text>
<path d="M30.2 127.95H33" stroke="#000" stroke-width="1.3"/>
<text x="16.3" y="130.55" class="m7">0.6</text>
<path d="M30.2 98.45H33" stroke="#000" stroke-width="1.3"/>
<text x="16.3" y="101.05" class="m7">0.8</text>
<path d="M30.2 68.95H33" stroke="#000" stroke-width="1.3"/>
<text x="16.3" y="71.55" class="m7">1.0</text>
<path d="M30.2 39.45H33" stroke="#000" stroke-width="1.3"/>
<text x="16.3" y="42.05" class="m7">1.2</text>
<path d="M32.50 216V219" stroke="#000" stroke-width="1"/>
<text x="32.50" y="225.2" class="s8" text-anchor="middle">380</text>
<path d="M112.20 216V219" stroke="#000" stroke-width="1"/>
<text x="112.20" y="225.2" class="s8" text-anchor="middle">480</text>
<path d="M191.90 216V219" stroke="#000" stroke-width="1"/>
<text x="191.90" y="225.2" class="s8" text-anchor="middle">580</text>
<path d="M271.60 216V219" stroke="#000" stroke-width="1"/>
<text x="271.60" y="225.2" class="s8" text-anchor="middle">680</text>
<path d="M351.30 216V219" stroke="#000" stroke-width="1"/>
<text x="351.30" y="225.2" class="s8" text-anchor="middle">780</text>
<text x="10.6" y="33.6" class="m7" style="font-size:7.2px">Spectrum</text>
<text x="160.6" y="232.4" class="m73">Wavelength(nm)</text>
<text x="271.8" y="35.2" class="m73">1.0 = 8.728e+001mW/nm</text>
<use href="#chart"/>
<text x="365" y="32.4" class="cb" xml:space="preserve">CIE1931  EVERFINE</text>
<text x="462.4" y="41.3" class="cb cl" xml:space="preserve">x = 0.3447 y = 0.3504</text>
<text x="507.6" y="57.5" class="cb cl" xml:space="preserve">CCT = 5013K</text>
<path d="M458.3 149.8h15.4 M466.0 141.8v16" stroke="#000" stroke-width="1.35" fill="none"/>
<rect x="10.3" y="23.6" width="581.4" height="213.2" fill="none" stroke="#000" stroke-width="1.4"/>
<path d="M364.6 23.6V236.8" stroke="#000" stroke-width="1.4"/>
</g>
</svg></body></html>
